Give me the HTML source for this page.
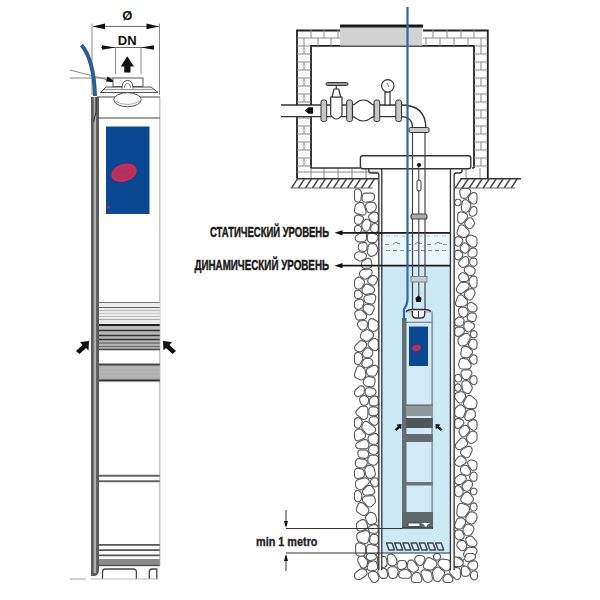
<!DOCTYPE html>
<html><head><meta charset="utf-8"><style>
html,body{margin:0;padding:0;background:#fff;width:600px;height:600px;overflow:hidden}
svg{display:block}
text{font-family:"Liberation Sans",sans-serif}
</style></head><body>
<svg width="600" height="600" viewBox="0 0 600 600" font-family="Liberation Sans, sans-serif"><g stroke="#8a8a8a" stroke-width="1" fill="none">
<line x1="92" y1="23.5" x2="92" y2="95"/><line x1="159.5" y1="23.5" x2="159.5" y2="95"/>
<line x1="115.5" y1="47.5" x2="115.5" y2="74"/><line x1="141" y1="47.5" x2="141" y2="74"/>
</g>
<g stroke="#666" stroke-width="1" fill="none">
<line x1="93" y1="26.4" x2="159" y2="26.4"/>
<line x1="101" y1="47.5" x2="154" y2="47.5"/>
</g>
<g fill="#111">
<path d="M92.5 26.4 L105 23.6 L105 29.2Z"/><path d="M159 26.4 L146.5 23.6 L146.5 29.2Z"/>
<path d="M115.5 47.5 L102 45.2 L102 49.8Z"/><path d="M141 47.5 L154 45.2 L154 49.8Z"/>
<path d="M127.3 56.3 L134 66.5 L130.5 66.5 L130.5 72.6 L124.2 72.6 L124.2 66.5 L120.7 66.5Z"/>
</g>
<text x="127.3" y="19.7" font-size="13" font-weight="bold" text-anchor="middle" fill="#111">Ø</text>
<text x="127.2" y="44.8" font-size="13" font-weight="bold" text-anchor="middle" fill="#111">DN</text>
<g stroke="#666" stroke-width="0.8" fill="none"><line x1="70" y1="70" x2="114" y2="81.5"/><line x1="70" y1="78" x2="113" y2="78"/></g>
<path d="M116.5 82.5 L107.5 76.5 L106 81.5Z" fill="#111"/>
<rect x="98.5" y="97" width="61.3" height="469" fill="#fff"/>
<line x1="159.8" y1="97" x2="159.8" y2="566" stroke="#b8b8b8" stroke-width="1.2"/>
<g stroke="#555" stroke-width="1" fill="#fff">
<rect x="113" y="78" width="30" height="8.5"/>
<path d="M100.5 92.5 L106 87 L151 87 L158 92.5Z" fill="#f4f4f4"/>
<line x1="104" y1="89.5" x2="154" y2="89.5" stroke="#999"/>
<path d="M122 88.5 Q122 80.5 127.5 80.5 Q133 80.5 133 88.5" fill="#fff"/>
<path d="M124.5 88 Q124.5 83.5 127.5 83.5 Q130.5 83.5 130.5 88" fill="none" stroke="#888"/>
</g>
<line x1="97" y1="97" x2="160" y2="97" stroke="#444" stroke-width="1.2"/>
<ellipse cx="127.5" cy="99.7" rx="13.7" ry="7" fill="#fff" stroke="#555" stroke-width="1"/>
<path d="M115 101 Q127.5 108 140 101" fill="none" stroke="#999" stroke-width="0.8"/>
<path d="M91 97 L99 97 L99 570 Q99 575 95 576 L91 576Z" fill="#5c5c5c"/>
<rect x="93.7" y="97" width="2.4" height="476" fill="#b0b0b0"/>
<path d="M96 97 L96 112 L93.5 122" stroke="#222" stroke-width="1" fill="none"/>
<line x1="98" y1="118" x2="159.8" y2="118" stroke="#444" stroke-width="1.2"/>
<rect x="106" y="126.5" width="43.5" height="87.5" fill="#0a4893"/>
<ellipse cx="124" cy="172.7" rx="12" ry="7.6" transform="rotate(-18 124 172.7)" fill="#a83468" stroke="#d82a4a" stroke-width="2.2"/>
<ellipse cx="125" cy="172" rx="7" ry="3" transform="rotate(-18 124 172.7)" fill="none" stroke="#d8284a" stroke-width="1.4"/>
<circle cx="108.5" cy="207.5" r="1.2" fill="#c02840"/>
<rect x="99" y="302" width="60.8" height="23" fill="#ebebeb"/>
<rect x="99" y="326" width="60.8" height="24" fill="#b4b4b4"/>
<rect x="99" y="364.5" width="60.8" height="16" fill="#b0b0b0"/>
<rect x="99" y="559" width="60.8" height="6" fill="#8a8a8a"/>
<line x1="99" y1="302.5" x2="159.8" y2="302.5" stroke="#777" stroke-width="1.2"/>
<line x1="99" y1="307.5" x2="159.8" y2="307.5" stroke="#666" stroke-width="1.2"/>
<line x1="99" y1="310.5" x2="159.8" y2="310.5" stroke="#aaa" stroke-width="0.8"/>
<line x1="99" y1="313.5" x2="159.8" y2="313.5" stroke="#bbb" stroke-width="0.8"/>
<line x1="99" y1="316.5" x2="159.8" y2="316.5" stroke="#aaa" stroke-width="0.8"/>
<line x1="99" y1="319.5" x2="159.8" y2="319.5" stroke="#999" stroke-width="0.8"/>
<line x1="99" y1="325" x2="159.8" y2="325" stroke="#222" stroke-width="2"/>
<line x1="99" y1="328" x2="159.8" y2="328" stroke="#ccc" stroke-width="0.8"/>
<line x1="99" y1="330.5" x2="159.8" y2="330.5" stroke="#333" stroke-width="1.6"/>
<line x1="99" y1="333.5" x2="159.8" y2="333.5" stroke="#bbb" stroke-width="0.8"/>
<line x1="99" y1="335.5" x2="159.8" y2="335.5" stroke="#333" stroke-width="1.6"/>
<line x1="99" y1="337.5" x2="159.8" y2="337.5" stroke="#bbb" stroke-width="0.8"/>
<line x1="99" y1="339.5" x2="159.8" y2="339.5" stroke="#333" stroke-width="1.6"/>
<line x1="99" y1="341.5" x2="159.8" y2="341.5" stroke="#bbb" stroke-width="0.8"/>
<line x1="99" y1="343" x2="159.8" y2="343" stroke="#555" stroke-width="1.2"/>
<line x1="99" y1="346.5" x2="159.8" y2="346.5" stroke="#666" stroke-width="1.2"/>
<line x1="99" y1="349.5" x2="159.8" y2="349.5" stroke="#444" stroke-width="1.6"/>
<line x1="99" y1="364.5" x2="159.8" y2="364.5" stroke="#444" stroke-width="1.8"/>
<line x1="99" y1="368" x2="159.8" y2="368" stroke="#bbb" stroke-width="0.8"/>
<line x1="99" y1="372" x2="159.8" y2="372" stroke="#bbb" stroke-width="0.8"/>
<line x1="99" y1="376" x2="159.8" y2="376" stroke="#bbb" stroke-width="0.8"/>
<line x1="99" y1="380.5" x2="159.8" y2="380.5" stroke="#333" stroke-width="1.8"/>
<line x1="99" y1="475.8" x2="159.8" y2="475.8" stroke="#666" stroke-width="2"/>
<line x1="99" y1="481.3" x2="159.8" y2="481.3" stroke="#666" stroke-width="2"/>
<line x1="99" y1="544.9" x2="159.8" y2="544.9" stroke="#555" stroke-width="1.8"/>
<line x1="99" y1="550.2" x2="159.8" y2="550.2" stroke="#555" stroke-width="1.8"/>
<line x1="99" y1="555.4" x2="159.8" y2="555.4" stroke="#555" stroke-width="1.8"/>
<line x1="99" y1="565.5" x2="159.8" y2="565.5" stroke="#555" stroke-width="1.5"/>
<g stroke="#444" stroke-width="1.3" fill="#fff"><path d="M102.5 579 L102.5 572 Q102.5 569 105.5 569 L133 569 Q136.4 569 136.4 572 L136.4 579"/><path d="M149.3 579 L149.3 572 Q149.3 569 152 569 L156.8 569 L156.8 579"/></g>
<line x1="91" y1="579" x2="158" y2="579" stroke="#bbb" stroke-width="1"/>
<line x1="70" y1="579" x2="86" y2="579" stroke="#888" stroke-width="0.8"/>
<path d="M89 341 L80 342 L82.5 345 L76 351 L79.5 354 L86 348 L88.5 350.5Z" fill="#111"/>
<path d="M163 341 L172 342 L169.5 345 L176 351 L172.5 354 L166 348 L163.5 350.5Z" fill="#111"/>
<path d="M81.5 45 Q94 60 95 96" stroke="#2a5f92" stroke-width="4" fill="none"/>
<g>
<path d="M297 178 L297 30.5 L340 30.5 M423 30.5 L487.8 30.5 L487.8 178" stroke="#222" stroke-width="1.8" fill="none"/>
<path d="M311 168 L311 45.8 L474 45.8 L474 168" stroke="#222" stroke-width="1.8" fill="none"/>
<g stroke="#888" stroke-width="1">
<line x1="297" y1="38" x2="340" y2="38"/>
<line x1="311" y1="30" x2="311" y2="38"/>
<line x1="324" y1="30" x2="324" y2="38"/>
<line x1="338" y1="30" x2="338" y2="38"/>
<line x1="304" y1="38" x2="304" y2="46"/>
<line x1="318" y1="38" x2="318" y2="46"/>
<line x1="331" y1="38" x2="331" y2="46"/>
<line x1="423" y1="38" x2="487.5" y2="38"/>
<line x1="433" y1="30" x2="433" y2="38"/>
<line x1="447" y1="30" x2="447" y2="38"/>
<line x1="461" y1="30" x2="461" y2="38"/>
<line x1="474" y1="30" x2="474" y2="38"/>
<line x1="426" y1="38" x2="426" y2="46"/>
<line x1="440" y1="38" x2="440" y2="46"/>
<line x1="454" y1="38" x2="454" y2="46"/>
<line x1="468" y1="38" x2="468" y2="46"/>
<line x1="481" y1="38" x2="481" y2="46"/>
<line x1="297" y1="46" x2="311" y2="46"/><line x1="474" y1="46" x2="487.5" y2="46"/>
<line x1="304" y1="46" x2="304" y2="54"/><line x1="481" y1="46" x2="481" y2="54"/>
<line x1="297" y1="54" x2="311" y2="54"/><line x1="474" y1="54" x2="487.5" y2="54"/>
<line x1="297" y1="62" x2="311" y2="62"/><line x1="474" y1="62" x2="487.5" y2="62"/>
<line x1="304" y1="62" x2="304" y2="70"/><line x1="481" y1="62" x2="481" y2="70"/>
<line x1="297" y1="70" x2="311" y2="70"/><line x1="474" y1="70" x2="487.5" y2="70"/>
<line x1="297" y1="78" x2="311" y2="78"/><line x1="474" y1="78" x2="487.5" y2="78"/>
<line x1="304" y1="78" x2="304" y2="86"/><line x1="481" y1="78" x2="481" y2="86"/>
<line x1="297" y1="86" x2="311" y2="86"/><line x1="474" y1="86" x2="487.5" y2="86"/>
<line x1="297" y1="94" x2="311" y2="94"/><line x1="474" y1="94" x2="487.5" y2="94"/>
<line x1="304" y1="94" x2="304" y2="102"/><line x1="481" y1="94" x2="481" y2="102"/>
<line x1="297" y1="102" x2="311" y2="102"/><line x1="474" y1="102" x2="487.5" y2="102"/>
<line x1="297" y1="110" x2="311" y2="110"/><line x1="474" y1="110" x2="487.5" y2="110"/>
<line x1="304" y1="110" x2="304" y2="118"/><line x1="481" y1="110" x2="481" y2="118"/>
<line x1="297" y1="118" x2="311" y2="118"/><line x1="474" y1="118" x2="487.5" y2="118"/>
<line x1="297" y1="126" x2="311" y2="126"/><line x1="474" y1="126" x2="487.5" y2="126"/>
<line x1="304" y1="126" x2="304" y2="134"/><line x1="481" y1="126" x2="481" y2="134"/>
<line x1="297" y1="134" x2="311" y2="134"/><line x1="474" y1="134" x2="487.5" y2="134"/>
<line x1="297" y1="142" x2="311" y2="142"/><line x1="474" y1="142" x2="487.5" y2="142"/>
<line x1="304" y1="142" x2="304" y2="150"/><line x1="481" y1="142" x2="481" y2="150"/>
<line x1="297" y1="150" x2="311" y2="150"/><line x1="474" y1="150" x2="487.5" y2="150"/>
<line x1="297" y1="158" x2="311" y2="158"/><line x1="474" y1="158" x2="487.5" y2="158"/>
<line x1="304" y1="158" x2="304" y2="166"/><line x1="481" y1="158" x2="481" y2="166"/>
<line x1="297" y1="166" x2="311" y2="166"/><line x1="474" y1="166" x2="487.5" y2="166"/>
<line x1="297" y1="172" x2="380" y2="172"/>
<line x1="311" y1="168" x2="311" y2="178"/>
<line x1="324" y1="168" x2="324" y2="178"/>
<line x1="338" y1="168" x2="338" y2="178"/>
<line x1="352" y1="168" x2="352" y2="178"/>
<line x1="366" y1="168" x2="366" y2="178"/>
<line x1="466" y1="168" x2="466" y2="178"/>
<line x1="480" y1="168" x2="480" y2="178"/>
</g>
<line x1="311" y1="168" x2="360" y2="168" stroke="#333" stroke-width="1.5"/>
<line x1="472" y1="168" x2="474" y2="168" stroke="#333" stroke-width="1.5"/>
</g>
<rect x="340" y="27" width="82" height="19" fill="#d2d2d2"/>
<rect x="340" y="24.5" width="83" height="3" fill="#1a1a1a"/>
<line x1="340" y1="46" x2="423" y2="46" stroke="#555" stroke-width="1"/>
<g><clipPath id="c290"><path d="M290.5 188 L296.5 178.8 L378.8 178.8 L372.8 188Z"/></clipPath><path d="M290.5 188 L296.5 178.8 L378.8 178.8 L372.8 188Z" fill="#fff"/><line x1="296.5" y1="178.8" x2="378.8" y2="178.8" stroke="#333" stroke-width="1.4"/><line x1="290.5" y1="188" x2="372.8" y2="188" stroke="#666" stroke-width="1"/><g clip-path="url(#c290)" stroke="#444" stroke-width="1.5"><line x1="270.5" y1="188" x2="276.5" y2="178.8"/><line x1="277.5" y1="188" x2="283.5" y2="178.8"/><line x1="284.5" y1="188" x2="290.5" y2="178.8"/><line x1="291.5" y1="188" x2="297.5" y2="178.8"/><line x1="298.5" y1="188" x2="304.5" y2="178.8"/><line x1="305.5" y1="188" x2="311.5" y2="178.8"/><line x1="312.5" y1="188" x2="318.5" y2="178.8"/><line x1="319.5" y1="188" x2="325.5" y2="178.8"/><line x1="326.5" y1="188" x2="332.5" y2="178.8"/><line x1="333.5" y1="188" x2="339.5" y2="178.8"/><line x1="340.5" y1="188" x2="346.5" y2="178.8"/><line x1="347.5" y1="188" x2="353.5" y2="178.8"/><line x1="354.5" y1="188" x2="360.5" y2="178.8"/><line x1="361.5" y1="188" x2="367.5" y2="178.8"/><line x1="368.5" y1="188" x2="374.5" y2="178.8"/><line x1="375.5" y1="188" x2="381.5" y2="178.8"/><line x1="382.5" y1="188" x2="388.5" y2="178.8"/></g></g>
<g><clipPath id="c454"><path d="M454.2 188 L460.2 178.8 L521 178.8 L515 188Z"/></clipPath><path d="M454.2 188 L460.2 178.8 L521 178.8 L515 188Z" fill="#fff"/><line x1="460.2" y1="178.8" x2="521" y2="178.8" stroke="#333" stroke-width="1.4"/><line x1="454.2" y1="188" x2="515" y2="188" stroke="#666" stroke-width="1"/><g clip-path="url(#c454)" stroke="#444" stroke-width="1.5"><line x1="434.2" y1="188" x2="440.2" y2="178.8"/><line x1="441.2" y1="188" x2="447.2" y2="178.8"/><line x1="448.2" y1="188" x2="454.2" y2="178.8"/><line x1="455.2" y1="188" x2="461.2" y2="178.8"/><line x1="462.2" y1="188" x2="468.2" y2="178.8"/><line x1="469.2" y1="188" x2="475.2" y2="178.8"/><line x1="476.2" y1="188" x2="482.2" y2="178.8"/><line x1="483.2" y1="188" x2="489.2" y2="178.8"/><line x1="490.2" y1="188" x2="496.2" y2="178.8"/><line x1="497.2" y1="188" x2="503.2" y2="178.8"/><line x1="504.2" y1="188" x2="510.2" y2="178.8"/><line x1="511.2" y1="188" x2="517.2" y2="178.8"/><line x1="518.2" y1="188" x2="524.2" y2="178.8"/><line x1="525.2" y1="188" x2="531.2" y2="178.8"/></g></g>
<g fill="#fff" stroke="#5a5a5a" stroke-width="1.1" stroke-linejoin="round">
<path d="M354.5 198.8 L354.8 200.1 L355.5 201.1 L356.5 201.8 L357.8 202.0 L359.0 201.7 L359.1 201.7 L360.0 201.1 L360.7 200.2 L361.0 199.1 L361.6 193.6 L361.5 192.5 L361.2 191.6 L360.4 190.4 L359.6 189.5 L358.6 189.0 L357.4 188.9 L356.3 189.2 L355.3 189.9 L354.7 190.9 L354.5 192.1Z"/>
<path d="M358.4 224.4 L359.6 224.3 L360.7 223.8 L361.6 222.9 L363.0 220.6 L363.4 219.5 L363.4 218.3 L363.0 217.2 L362.2 216.4 L361.1 215.9 L358.6 215.1 L357.4 215.0 L356.3 215.4 L355.3 216.1 L354.7 217.1 L354.5 218.2 L354.5 221.1 L354.7 222.2 L355.3 223.2 L356.2 223.9 L357.3 224.3Z"/>
<path d="M356.2 364.2 L357.2 364.6 L358.3 364.7 L358.4 364.7 L359.8 364.1 L360.8 362.9 L362.5 359.5 L362.8 358.2 L362.6 356.9 L361.6 354.6 L360.7 353.4 L359.4 352.7 L358.5 352.5 L357.3 352.4 L356.2 352.8 L355.3 353.5 L354.7 354.5 L354.5 355.6 L354.5 361.4 L354.7 362.5 L355.2 363.4 L356.0 364.1Z"/>
<path d="M360.2 232.2 L361.0 231.4 L361.6 230.4 L361.7 229.3 L361.5 228.2 L361.1 227.4 L360.5 226.4 L359.6 225.8 L358.6 225.4 L358.1 225.4 L356.8 225.5 L355.6 226.1 L354.8 227.2 L354.5 228.6 L354.5 229.9 L354.8 231.2 L355.6 232.3 L356.8 233.0 L358.1 233.1 L359.4 232.6Z"/>
<path d="M359.4 491.0 L358.1 490.5 L356.8 490.6 L355.6 491.3 L354.8 492.4 L354.5 493.7 L354.5 498.5 L354.8 499.8 L355.7 500.9 L356.9 501.6 L357.1 501.6 L358.2 501.7 L359.3 501.4 L359.7 501.2 L360.8 500.3 L361.4 499.1 L361.9 497.0 L362.0 496.1 L361.8 495.1 L360.9 492.7 L360.4 491.8 L359.6 491.1Z"/>
<path d="M354.5 475.5 L354.7 476.6 L355.3 477.6 L356.3 478.3 L357.4 478.7 L358.6 478.5 L362.3 477.5 L363.4 476.9 L364.2 476.0 L364.5 474.8 L364.5 473.6 L363.9 471.3 L363.4 470.2 L362.5 469.3 L361.3 468.9 L358.2 468.4 L356.8 468.4 L355.6 469.1 L354.8 470.2 L354.5 471.5Z"/>
<path d="M358.4 290.1 L357.2 290.0 L356.2 290.4 L355.3 291.1 L354.7 292.1 L354.5 293.2 L354.5 295.4 L354.7 296.5 L355.3 297.5 L356.2 298.2 L357.4 298.5 L358.5 298.5 L360.0 298.1 L361.2 297.4 L362.1 296.3 L362.4 295.0 L362.1 293.6 L361.3 292.0 L360.4 290.8 L359.1 290.2Z"/>
<path d="M354.5 306.2 L354.7 307.3 L355.3 308.3 L356.2 309.0 L357.3 309.4 L358.4 309.3 L359.9 309.0 L361.2 308.4 L362.1 307.3 L363.6 304.5 L363.9 303.2 L363.7 301.9 L363.4 301.2 L362.8 300.2 L361.9 299.4 L360.8 299.1 L359.6 299.2 L356.9 299.9 L355.6 300.6 L354.8 301.7 L354.5 303.0Z"/>
<path d="M359.7 418.3 L358.6 417.7 L357.4 417.6 L356.3 417.9 L355.3 418.6 L354.7 419.6 L354.5 420.8 L354.5 424.9 L354.7 426.1 L355.4 427.1 L356.4 427.8 L357.6 428.1 L358.8 427.9 L359.0 427.8 L360.1 427.1 L360.9 425.9 L362.0 423.0 L362.2 421.7 L361.9 420.4 L361.0 419.3Z"/>
<path d="M354.5 437.7 L354.8 439.0 L355.5 440.0 L356.5 440.7 L357.8 440.9 L359.0 440.6 L363.7 438.5 L364.6 437.9 L365.3 436.9 L365.6 435.8 L365.4 434.6 L364.9 433.6 L362.0 430.1 L361.0 429.2 L359.7 428.9 L358.4 429.1 L356.6 429.8 L355.5 430.4 L354.8 431.5 L354.5 432.8Z"/>
<path d="M359.7 543.0 L358.5 542.8 L357.3 543.1 L356.3 543.9 L355.7 544.9 L355.5 546.1 L355.7 552.8 L356.0 554.0 L356.8 555.1 L357.9 555.7 L360.2 556.4 L361.2 556.6 L362.2 556.4 L363.3 556.0 L364.4 555.4 L365.1 554.3 L365.4 553.1 L365.6 547.4 L365.3 546.1 L364.6 545.0 L363.4 544.3Z"/>
<path d="M361.7 366.6 L360.6 366.0 L359.4 365.9 L358.2 366.2 L357.2 366.9 L356.6 368.0 L354.7 373.5 L354.5 374.5 L354.5 375.1 L354.7 376.3 L355.3 377.3 L356.3 378.0 L359.6 379.6 L361.0 380.0 L362.3 379.7 L363.5 378.9 L365.2 376.9 L365.8 375.6 L365.9 374.2 L365.2 370.4 L364.8 369.4 L364.0 368.5Z"/>
<path d="M354.5 285.6 L354.8 287.0 L355.7 288.2 L357.0 288.8 L358.5 289.1 L359.8 289.1 L361.0 288.6 L361.9 287.6 L364.1 284.0 L364.5 282.9 L364.5 281.8 L364.1 280.7 L363.3 279.9 L360.7 277.8 L359.7 277.2 L358.6 277.1 L357.5 277.3 L356.6 277.9 L355.5 278.9 L354.8 280.0 L354.5 281.3Z"/>
<path d="M359.3 351.7 L360.4 351.7 L361.5 351.4 L362.4 350.7 L365.8 347.1 L366.4 346.1 L366.6 345.0 L366.5 343.9 L365.9 342.9 L365.0 342.1 L363.0 341.0 L361.7 340.6 L360.2 340.8 L359.1 341.6 L355.3 345.7 L354.7 346.7 L354.5 347.8 L354.5 348.0 L354.8 349.4 L355.7 350.5 L356.9 351.1Z"/>
<path d="M360.5 565.0 L360.6 566.2 L361.0 567.3 L361.9 568.2 L363.0 568.6 L366.3 569.4 L367.7 569.4 L368.9 568.8 L369.8 567.8 L370.2 566.5 L370.0 565.2 L367.8 558.9 L367.2 557.8 L366.2 557.0 L365.0 556.7 L363.8 556.9 L363.5 557.0 L362.4 557.6 L361.7 558.5 L361.3 559.6Z"/>
<path d="M355.5 464.7 L356.0 465.9 L356.9 466.9 L358.2 467.3 L361.9 468.0 L363.0 468.0 L364.0 467.6 L364.8 467.0 L366.4 465.2 L367.2 463.8 L367.2 462.3 L367.1 461.9 L366.5 460.7 L365.7 459.9 L364.5 459.5 L359.7 458.6 L358.6 458.6 L357.5 458.9 L356.7 459.6 L356.0 460.4 L355.4 461.6 L355.3 463.0Z"/>
<path d="M359.0 532.5 L358.0 533.0 L357.2 533.9 L356.8 534.9 L356.7 536.0 L357.1 539.2 L357.5 540.3 L358.2 541.2 L359.2 541.8 L364.1 543.4 L365.4 543.6 L366.7 543.2 L367.7 542.4 L368.3 541.1 L369.7 535.1 L369.7 533.7 L369.1 532.4 L368.7 531.9 L367.7 531.0 L366.5 530.6 L365.2 530.7Z"/>
<path d="M356.5 508.5 L356.3 509.9 L356.7 511.3 L357.7 512.3 L361.9 515.1 L363.0 515.5 L364.1 515.6 L365.2 515.2 L366.1 514.5 L368.1 512.3 L368.7 511.2 L368.8 510.0 L368.6 508.9 L367.9 507.9 L363.3 503.4 L362.2 502.7 L361.0 502.4 L359.7 502.7 L358.7 503.4 L358.0 504.5Z"/>
<path d="M357.6 442.4 L356.6 443.1 L355.9 444.1 L355.7 445.3 L355.9 446.5 L356.5 447.5 L357.5 448.2 L358.7 448.5 L365.1 448.9 L366.4 448.8 L367.5 448.1 L368.3 447.0 L368.7 446.1 L369.0 444.9 L368.7 443.6 L367.8 441.4 L367.1 440.3 L366.0 439.6 L364.8 439.4 L363.5 439.7Z"/>
<path d="M357.2 310.6 L356.0 311.2 L355.1 312.2 L354.7 313.4 L354.9 314.8 L355.9 318.0 L356.5 318.9 L357.3 319.7 L358.4 320.1 L359.5 320.1 L363.9 319.4 L365.0 319.0 L365.9 318.3 L366.4 317.3 L366.6 316.1 L366.4 315.0 L365.7 314.0 L362.8 311.0 L361.9 310.3 L360.9 310.0 L359.8 310.0Z"/>
<path d="M356.7 396.4 L358.1 396.7 L359.5 396.3 L362.3 394.9 L363.2 394.3 L363.8 393.4 L364.1 392.4 L364.4 389.2 L364.3 387.9 L363.7 386.8 L362.7 386.0 L361.4 385.7 L360.1 385.9 L359.0 386.6 L355.5 390.0 L354.8 391.0 L354.5 392.3 L354.5 393.3 L354.7 394.5 L355.4 395.5 L356.4 396.2Z"/>
<path d="M356.8 410.3 L356.1 411.4 L355.9 412.7 L356.3 414.0 L357.1 415.0 L362.0 418.8 L363.1 419.4 L364.3 419.5 L365.5 419.1 L366.5 418.3 L367.1 417.6 L367.6 416.7 L367.8 415.6 L367.9 409.5 L367.7 408.3 L367.0 407.3 L366.1 406.6 L365.0 406.2 L362.6 406.0 L361.2 406.2 L360.0 407.0Z"/>
<path d="M358.8 260.7 L359.9 261.0 L361.0 261.0 L362.1 260.5 L365.0 258.6 L365.9 257.7 L366.3 256.6 L366.4 255.4 L365.9 254.2 L365.1 253.3 L364.0 252.8 L359.5 251.7 L358.0 251.7 L356.7 252.4 L355.6 253.3 L354.8 254.4 L354.5 255.7 L354.5 256.5 L354.7 257.6 L355.3 258.6 L356.2 259.3Z"/>
<path d="M356.7 235.4 L355.9 236.2 L355.3 237.3 L355.2 238.4 L355.5 239.6 L356.2 240.5 L357.0 241.2 L358.2 241.9 L359.6 242.0 L363.6 241.6 L364.7 241.2 L365.6 240.5 L366.2 239.6 L366.4 238.5 L366.5 235.3 L366.2 233.9 L365.5 232.8 L364.3 232.1 L362.9 232.0 L361.6 232.4Z"/>
<path d="M355.7 486.0 L356.1 487.3 L357.2 488.4 L358.8 489.4 L360.1 489.9 L361.5 489.8 L362.7 489.0 L368.3 483.8 L369.0 482.8 L369.3 481.7 L369.2 480.5 L368.6 479.5 L367.7 478.7 L366.9 478.2 L365.7 477.8 L364.4 477.9 L357.8 479.8 L356.5 480.5 L355.7 481.7 L355.5 483.2Z"/>
<path d="M363.9 204.5 L363.3 203.4 L362.2 202.6 L360.9 202.3 L359.6 202.6 L357.0 203.7 L355.9 204.6 L355.2 206.0 L354.6 209.0 L354.5 209.6 L354.5 210.5 L354.8 211.9 L355.6 213.0 L356.8 213.6 L362.1 215.1 L363.4 215.2 L364.7 214.7 L365.7 213.7 L366.1 212.4 L366.0 211.0Z"/>
<path d="M363.0 229.3 L363.7 230.3 L364.8 231.0 L365.1 231.1 L366.4 231.3 L367.6 231.0 L368.6 230.3 L369.3 229.2 L370.8 224.6 L371.0 223.6 L370.8 222.5 L370.3 221.6 L369.3 220.4 L368.3 219.6 L367.2 219.2 L366.0 219.3 L364.9 219.8 L364.1 220.7 L362.2 223.8 L361.7 225.3 L361.9 226.8Z"/>
<path d="M360.7 337.7 L361.3 338.6 L362.1 339.3 L365.1 341.0 L366.3 341.4 L367.6 341.3 L368.7 340.8 L372.5 337.8 L373.4 336.6 L373.7 335.2 L373.7 335.0 L373.3 333.5 L372.3 332.4 L369.0 330.2 L368.0 329.8 L366.9 329.7 L365.9 330.0 L362.9 331.4 L361.8 332.2 L361.2 333.3 L360.5 335.1 L360.4 336.3 L360.6 337.4Z"/>
<path d="M360.0 272.0 L359.5 273.1 L359.5 274.3 L359.8 275.5 L360.6 276.4 L363.2 278.5 L364.2 279.0 L365.3 279.2 L366.4 278.9 L367.4 278.3 L371.2 274.8 L372.0 273.5 L372.2 272.0 L372.2 272.0 L371.8 270.8 L371.1 269.9 L370.0 269.3 L368.8 269.1 L363.3 269.5 L361.9 269.9 L360.9 270.8Z"/>
<path d="M362.7 292.6 L363.6 293.7 L364.8 294.4 L366.2 294.4 L372.0 293.3 L373.2 292.7 L374.1 291.7 L374.5 290.4 L374.4 289.1 L374.1 288.3 L373.5 287.3 L372.6 286.6 L368.6 284.4 L367.4 284.0 L366.2 284.1 L365.1 284.7 L364.3 285.6 L362.4 288.7 L362.0 289.6 L362.0 290.7 L362.3 291.7Z"/>
<path d="M356.7 528.2 L357.0 529.3 L357.7 530.2 L358.6 530.8 L359.7 531.1 L360.8 531.0 L365.4 529.6 L366.4 529.1 L367.1 528.3 L367.6 527.3 L367.6 527.0 L367.7 526.0 L367.4 524.9 L365.7 521.3 L364.9 520.3 L363.7 519.6 L362.4 519.5 L361.1 520.0 L357.9 522.0 L357.1 522.8 L356.6 523.9 L356.5 525.0Z"/>
<path d="M363.1 355.6 L363.9 356.7 L365.0 357.3 L366.3 357.5 L369.4 357.2 L370.4 357.0 L371.3 356.3 L372.0 355.4 L372.6 354.0 L372.9 352.7 L372.7 351.3 L371.8 350.2 L370.0 348.6 L368.9 348.0 L367.7 347.8 L366.5 348.1 L365.5 348.9 L363.3 351.2 L362.7 352.3 L362.4 353.5 L362.7 354.7Z"/>
<path d="M360.2 321.0 L359.0 321.5 L358.0 322.3 L357.5 323.5 L357.5 324.8 L358.0 326.0 L359.9 328.7 L360.7 329.5 L361.7 330.0 L362.8 330.1 L363.9 329.8 L365.4 329.1 L366.3 328.5 L366.9 327.5 L367.2 326.5 L367.4 323.8 L367.3 322.7 L366.8 321.7 L365.9 320.9 L364.8 320.5 L363.7 320.5Z"/>
<path d="M363.8 380.0 L363.3 380.9 L363.1 382.0 L363.3 383.1 L363.8 384.1 L364.7 385.1 L365.6 385.9 L366.7 386.2 L370.8 386.9 L372.0 386.8 L373.1 386.3 L374.0 385.4 L374.4 384.3 L375.1 380.9 L375.1 379.6 L374.5 378.4 L373.6 377.5 L372.3 377.1 L368.6 376.6 L367.5 376.7 L366.6 377.0 L365.8 377.7Z"/>
<path d="M361.5 265.7 L361.9 266.8 L362.7 267.7 L363.7 268.3 L364.9 268.4 L368.9 268.1 L370.2 267.8 L371.2 267.0 L371.8 265.8 L371.9 264.5 L371.4 261.0 L370.9 259.8 L370.1 258.9 L368.9 258.4 L367.6 258.3 L366.4 258.8 L362.7 261.3 L361.9 262.1 L361.4 263.2 L361.4 264.4Z"/>
<path d="M358.3 247.8 L358.6 249.2 L359.5 250.4 L360.8 251.0 L362.9 251.5 L364.2 251.5 L365.4 251.1 L366.3 250.1 L366.8 248.9 L367.2 246.2 L367.1 245.1 L366.7 244.0 L365.9 243.1 L364.8 242.6 L363.6 242.6 L361.2 242.9 L360.1 243.2 L359.2 243.9 L358.6 244.8 L358.4 246.0Z"/>
<path d="M358.0 454.9 L358.4 456.2 L359.3 457.2 L360.6 457.7 L364.4 458.4 L365.7 458.4 L366.9 457.8 L367.8 456.8 L368.4 455.7 L368.8 454.4 L368.5 453.0 L368.1 452.0 L367.5 451.0 L366.5 450.3 L365.3 450.0 L361.2 449.7 L359.9 449.9 L358.7 450.6 L358.0 451.8 L357.8 453.1Z"/>
<path d="M361.3 396.5 L360.4 397.2 L359.8 398.2 L359.5 399.3 L359.7 400.5 L360.6 403.0 L361.2 404.0 L362.1 404.7 L363.3 405.1 L364.7 405.2 L365.9 405.1 L367.0 404.6 L367.8 403.7 L368.2 402.5 L368.6 400.0 L368.5 398.8 L368.0 397.6 L367.1 396.8 L365.9 396.0 L364.9 395.6 L363.8 395.5 L362.7 395.8Z"/>
<path d="M363.5 489.7 L362.8 490.7 L362.5 492.0 L362.8 493.3 L363.6 494.4 L364.7 495.0 L366.0 495.2 L372.0 494.5 L373.2 494.1 L374.2 493.2 L374.8 491.9 L374.7 490.6 L374.2 489.4 L372.0 486.5 L371.0 485.7 L369.7 485.3 L368.4 485.5 L367.2 486.1Z"/>
<path d="M362.0 198.6 L362.1 199.8 L362.6 200.9 L363.5 201.7 L364.6 202.1 L365.7 202.2 L371.5 201.2 L372.8 200.8 L373.7 199.9 L374.2 198.7 L374.5 196.9 L374.5 195.5 L373.9 194.3 L372.8 193.4 L371.4 193.1 L365.6 193.0 L364.4 193.1 L363.4 193.7 L362.7 194.7 L362.4 195.8Z"/>
<path d="M368.1 458.4 L367.7 459.5 L367.8 460.7 L368.1 462.0 L368.5 463.0 L369.2 463.8 L370.2 464.3 L372.4 465.1 L374.0 465.2 L375.4 464.7 L377.0 463.5 L377.9 462.4 L378.3 460.9 L378.3 458.4 L378.1 457.2 L377.4 456.2 L376.4 455.5 L375.2 455.2 L371.9 455.0 L370.8 455.2 L369.7 455.8 L369.0 456.7Z"/>
<path d="M367.5 506.1 L368.6 506.8 L369.8 507.0 L371.1 506.7 L372.1 505.9 L374.7 503.1 L375.3 502.2 L375.5 501.1 L375.4 500.1 L374.8 497.9 L374.3 496.9 L373.5 496.1 L372.5 495.7 L371.3 495.6 L365.3 496.2 L364.1 496.6 L363.1 497.5 L362.5 498.6 L362.5 498.9 L362.4 500.1 L362.7 501.1 L363.3 502.0Z"/>
<path d="M368.5 478.0 L369.5 478.4 L370.6 478.4 L371.7 478.0 L373.7 476.9 L374.7 475.9 L375.3 474.7 L375.3 473.3 L374.1 468.3 L373.7 467.3 L372.9 466.5 L372.0 466.0 L370.3 465.4 L369.0 465.2 L367.8 465.5 L366.8 466.2 L365.5 467.7 L364.8 469.0 L364.8 470.6 L365.9 475.3 L366.5 476.5 L367.4 477.3Z"/>
<path d="M362.0 425.9 L361.8 427.0 L361.9 428.1 L362.5 429.0 L366.0 433.4 L367.1 434.3 L368.4 434.6 L369.8 434.4 L373.7 432.6 L374.9 431.8 L375.6 430.5 L375.6 429.1 L375.6 429.0 L375.2 428.0 L374.4 427.1 L367.9 422.0 L366.9 421.4 L365.7 421.3 L364.5 421.6 L363.6 422.3 L363.0 423.3Z"/>
<path d="M367.4 239.2 L367.6 240.5 L368.3 241.5 L369.3 242.2 L370.5 242.5 L373.7 242.6 L374.8 242.4 L375.7 241.9 L376.5 241.1 L377.7 239.1 L378.2 237.7 L377.9 236.1 L377.8 235.9 L377.0 234.8 L375.8 234.1 L371.6 232.8 L370.4 232.7 L369.3 233.0 L368.4 233.6 L367.7 234.6 L367.5 235.8Z"/>
<path d="M366.3 295.4 L365.1 296.0 L364.2 297.0 L363.8 298.3 L364.0 299.7 L364.5 301.1 L365.0 302.0 L365.9 302.7 L366.9 303.1 L371.2 304.0 L372.4 304.0 L373.5 303.5 L374.4 302.7 L374.9 301.6 L375.7 298.2 L375.8 296.9 L375.3 295.7 L374.5 294.8 L373.3 294.3 L372.0 294.3Z"/>
<path d="M363.9 367.1 L364.9 367.6 L366.2 367.8 L367.3 367.4 L371.2 365.5 L372.1 364.7 L372.7 363.7 L372.9 362.5 L372.6 361.3 L372.1 360.1 L371.4 359.1 L370.2 358.4 L368.9 358.3 L365.8 358.5 L364.8 358.8 L363.9 359.4 L363.2 360.3 L362.1 362.5 L361.8 363.9 L362.1 365.3 L363.0 366.4Z"/>
<path d="M365.1 392.2 L365.2 393.4 L365.7 394.4 L366.6 395.2 L368.0 396.1 L369.0 396.6 L370.0 396.6 L371.1 396.3 L374.2 394.9 L375.1 394.2 L375.7 393.2 L376.0 392.1 L375.8 391.0 L375.3 390.0 L374.8 389.3 L373.9 388.5 L372.7 388.1 L368.9 387.6 L367.7 387.7 L366.5 388.2 L365.7 389.2 L365.3 390.4Z"/>
<path d="M371.3 565.8 L372.0 567.0 L373.2 567.7 L374.6 567.9 L374.8 567.9 L376.1 567.5 L377.1 566.5 L377.7 565.3 L378.2 562.2 L378.3 561.6 L378.3 558.8 L378.1 557.6 L377.5 556.7 L376.6 555.9 L375.6 555.6 L374.4 555.6 L371.8 556.2 L370.5 556.7 L369.7 557.8 L369.3 559.0 L369.4 560.4Z"/>
<path d="M366.4 552.3 L366.6 553.4 L367.2 554.4 L368.1 555.1 L369.2 555.5 L370.3 555.5 L375.8 554.3 L377.1 553.7 L378.0 552.6 L378.3 551.2 L378.3 548.8 L378.0 547.5 L377.1 546.3 L375.8 545.7 L370.5 544.5 L369.3 544.4 L368.3 544.8 L367.4 545.5 L366.8 546.4 L366.6 547.5Z"/>
<path d="M368.7 255.0 L369.5 255.8 L370.5 256.3 L371.6 256.4 L372.7 256.1 L374.7 255.2 L375.5 254.6 L376.2 253.8 L377.5 251.2 L377.9 249.8 L377.6 248.4 L376.3 245.5 L375.6 244.5 L374.6 243.8 L373.4 243.6 L371.4 243.5 L370.3 243.7 L369.3 244.3 L368.6 245.2 L368.2 246.2 L367.4 251.6 L367.4 252.8 L367.9 253.9Z"/>
<path d="M373.3 319.1 L372.0 318.7 L370.8 318.8 L369.7 319.4 L368.9 320.4 L368.6 321.6 L368.2 326.5 L368.3 327.6 L368.8 328.6 L369.6 329.4 L372.0 331.0 L373.3 331.5 L374.8 331.3 L376.0 330.6 L377.3 329.3 L378.0 328.3 L378.3 327.0 L378.3 323.7 L378.1 322.5 L377.5 321.6 L376.6 320.9Z"/>
<path d="M368.7 278.5 L367.9 279.5 L367.6 280.6 L367.8 281.8 L368.4 282.9 L369.3 283.6 L371.3 284.7 L372.4 285.1 L373.6 285.0 L374.7 284.5 L375.5 283.6 L377.0 281.1 L377.4 280.0 L377.4 278.8 L377.0 277.7 L376.2 276.9 L375.1 276.1 L374.1 275.6 L373.0 275.4 L372.0 275.7 L371.0 276.3Z"/>
<path d="M369.2 402.2 L369.3 403.6 L369.9 404.8 L371.0 405.6 L372.3 405.9 L375.1 405.9 L376.3 405.7 L377.3 405.0 L378.1 404.0 L378.3 402.7 L378.3 399.1 L378.0 397.8 L377.3 396.8 L376.2 396.1 L375.0 395.9 L373.7 396.2 L371.4 397.3 L370.2 398.3 L369.6 399.7Z"/>
<path d="M363.4 307.0 L363.0 308.3 L363.2 309.6 L363.9 310.7 L367.1 314.0 L368.1 314.7 L369.2 315.0 L370.5 314.8 L371.5 314.2 L372.2 313.2 L374.0 309.6 L374.3 308.5 L374.2 307.4 L373.7 306.3 L372.8 305.5 L371.7 305.1 L367.4 304.2 L366.0 304.3 L364.8 304.9 L363.9 305.9Z"/>
<path d="M369.8 435.4 L368.8 436.1 L368.2 437.1 L367.9 438.3 L368.2 439.6 L369.3 442.3 L370.0 443.4 L371.0 444.1 L372.3 444.3 L375.1 444.3 L376.4 444.0 L377.4 443.4 L378.1 442.3 L378.3 441.1 L378.3 436.6 L378.1 435.4 L377.3 434.3 L376.3 433.6 L375.1 433.4 L373.8 433.7Z"/>
<path d="M369.2 341.6 L368.3 342.7 L368.0 344.1 L368.3 345.4 L369.1 346.6 L373.0 349.9 L374.1 350.5 L375.3 350.7 L376.4 350.4 L377.4 349.7 L378.1 348.7 L378.3 347.5 L378.3 342.0 L378.1 340.9 L377.6 340.0 L376.8 339.3 L376.2 338.9 L375.0 338.4 L373.7 338.5 L372.5 339.0Z"/>
<path d="M368.1 368.2 L367.0 369.0 L366.4 370.2 L366.4 371.6 L366.7 373.1 L367.2 374.3 L368.2 375.3 L369.4 375.7 L373.1 376.2 L374.4 376.0 L375.6 375.4 L376.4 374.3 L378.0 370.6 L378.3 369.3 L378.3 369.1 L378.1 368.0 L377.9 367.4 L377.2 366.3 L376.1 365.5 L375.9 365.4 L374.6 365.2 L373.2 365.5Z"/>
<path d="M370.4 214.0 L369.5 214.6 L368.9 215.6 L368.6 216.7 L368.8 217.9 L369.3 218.9 L371.3 221.3 L372.3 222.1 L373.6 222.4 L374.9 222.5 L376.2 222.3 L377.3 221.6 L378.0 220.6 L378.3 219.3 L378.3 215.2 L378.0 214.0 L377.3 212.9 L376.2 212.2 L374.9 212.0 L373.7 212.3Z"/>
<path d="M366.9 210.5 L367.5 211.7 L368.7 212.5 L370.0 212.7 L371.3 212.4 L374.3 210.9 L375.4 210.0 L376.0 208.6 L376.3 207.1 L376.3 205.9 L375.8 204.8 L375.1 203.6 L374.2 202.7 L373.1 202.2 L371.8 202.2 L368.3 202.8 L367.0 203.3 L366.0 204.2 L365.6 205.5 L365.7 206.9Z"/>
<path d="M368.8 448.4 L368.5 449.6 L368.7 450.9 L369.2 452.0 L369.9 453.1 L370.9 453.8 L372.0 454.0 L375.0 454.2 L376.2 454.0 L377.3 453.3 L378.0 452.2 L378.3 451.0 L378.3 448.5 L378.1 447.3 L377.3 446.2 L376.3 445.5 L375.1 445.3 L372.2 445.3 L371.0 445.6 L370.0 446.3 L369.3 447.3Z"/>
<path d="M366.3 515.8 L365.7 516.8 L365.6 518.1 L365.9 519.2 L367.5 522.7 L368.2 523.7 L369.1 524.3 L370.2 524.6 L371.4 524.4 L374.5 523.4 L375.5 522.9 L376.3 522.0 L376.7 520.9 L376.7 519.7 L375.8 515.7 L375.2 514.4 L374.2 513.5 L372.4 512.6 L371.0 512.2 L369.6 512.5 L368.5 513.3Z"/>
<path d="M372.1 478.9 L371.2 479.6 L370.7 480.5 L370.4 481.6 L370.4 481.6 L370.6 482.7 L371.1 483.7 L372.6 485.7 L373.6 486.5 L374.8 486.9 L376.1 486.7 L377.3 486.1 L378.0 485.0 L378.3 483.7 L378.3 480.9 L378.0 479.6 L377.3 478.5 L376.1 477.9 L374.8 477.7 L373.5 478.1Z"/>
<path d="M368.8 412.6 L369.1 414.0 L369.9 415.1 L371.1 415.7 L372.5 415.8 L375.5 415.4 L376.6 415.1 L377.5 414.4 L378.1 413.4 L378.3 412.2 L378.3 410.1 L378.1 408.9 L377.4 407.9 L376.4 407.2 L375.1 406.9 L372.1 406.9 L370.9 407.1 L369.8 407.8 L369.1 408.8 L368.9 410.1Z"/>
<path d="M371.9 416.9 L370.7 417.3 L369.8 418.1 L369.2 419.2 L369.1 420.5 L369.5 421.7 L370.3 422.6 L372.8 424.6 L374.0 425.2 L375.4 425.2 L376.6 424.7 L377.5 423.7 L377.8 423.2 L378.3 421.6 L378.3 419.7 L378.0 418.4 L377.2 417.3 L376.0 416.6 L374.7 416.5Z"/>
<path d="M370.6 525.7 L369.6 526.3 L368.8 527.2 L368.5 528.4 L368.5 529.6 L369.1 530.7 L369.9 531.9 L371.0 532.7 L372.3 533.1 L374.9 533.3 L376.2 533.2 L377.3 532.5 L378.0 531.4 L378.3 530.1 L378.3 527.6 L378.1 526.5 L377.4 525.5 L376.5 524.7 L375.3 524.4 L374.1 524.6Z"/>
<path d="M370.7 228.0 L370.6 229.3 L370.9 230.5 L371.7 231.5 L372.8 232.1 L374.2 232.5 L375.3 232.7 L376.5 232.4 L377.4 231.7 L378.1 230.6 L378.3 229.5 L378.3 226.7 L378.1 225.5 L377.4 224.5 L376.4 223.8 L375.3 223.5 L374.7 223.5 L373.4 223.7 L372.2 224.5 L371.5 225.7Z"/>
<path d="M369.6 540.0 L369.5 541.2 L370.0 542.4 L370.8 543.3 L372.0 543.8 L374.4 544.4 L375.5 544.4 L376.6 544.1 L377.5 543.4 L378.1 542.4 L378.3 541.2 L378.3 537.6 L378.1 536.4 L377.4 535.4 L376.5 534.7 L375.3 534.4 L373.7 534.2 L372.6 534.4 L371.5 534.8 L370.8 535.7 L370.3 536.7Z"/>
<path d="M460.3 326.0 L461.5 325.7 L462.5 325.0 L463.2 324.0 L463.9 322.0 L464.1 320.9 L463.9 319.7 L463.3 318.7 L462.3 318.0 L460.8 317.3 L459.7 317.0 L458.6 317.1 L457.6 317.6 L456.0 318.7 L455.0 319.8 L454.7 321.3 L454.7 322.9 L455.0 324.2 L455.7 325.2 L456.8 325.9 L458.1 326.1Z"/>
<path d="M454.7 202.6 L454.9 203.8 L455.5 204.8 L456.5 205.5 L457.6 205.8 L458.8 205.7 L459.9 205.1 L460.7 204.2 L461.1 203.1 L461.1 202.9 L461.0 201.6 L460.5 200.5 L459.6 199.6 L458.4 199.2 L457.1 199.3 L457.1 199.3 L455.8 199.9 L455.0 201.0 L454.7 202.4Z"/>
<path d="M461.1 386.7 L460.7 385.5 L459.9 384.6 L458.9 384.0 L457.7 383.9 L456.5 384.2 L455.6 384.9 L454.9 385.9 L454.7 387.1 L454.7 388.1 L454.9 389.2 L455.5 390.2 L456.3 390.9 L457.4 391.3 L458.5 391.3 L458.7 391.2 L459.8 390.8 L460.6 390.0 L461.1 388.9 L461.2 387.7Z"/>
<path d="M456.8 513.1 L456.9 514.3 L457.4 515.4 L458.2 516.2 L459.3 516.6 L462.3 517.2 L463.5 517.2 L464.7 516.8 L465.5 515.9 L468.9 511.4 L469.4 510.1 L469.4 508.8 L469.2 507.6 L468.5 506.2 L467.2 505.3 L462.5 503.5 L461.3 503.2 L460.1 503.5 L459.1 504.1 L458.4 504.8 L457.7 505.7 L457.4 506.8Z"/>
<path d="M454.7 425.2 L454.9 426.4 L455.6 427.5 L456.7 428.2 L457.9 428.4 L459.1 428.2 L460.2 427.5 L462.9 424.7 L463.7 423.6 L463.9 422.3 L463.5 421.1 L462.7 420.0 L461.6 419.4 L458.8 418.6 L457.6 418.5 L456.5 418.8 L455.5 419.5 L454.9 420.5 L454.7 421.7Z"/>
<path d="M454.9 488.0 L454.7 489.1 L454.7 493.0 L454.9 494.1 L455.4 495.0 L456.1 495.7 L457.0 496.3 L458.2 496.8 L459.5 496.8 L460.6 496.3 L461.5 495.4 L462.7 493.5 L463.1 492.4 L463.2 491.2 L462.8 490.1 L461.0 487.1 L460.1 486.2 L458.9 485.7 L458.8 485.6 L457.7 485.6 L456.6 485.9 L455.7 486.6 L455.1 487.5Z"/>
<path d="M459.8 564.9 L460.8 564.0 L461.4 562.8 L461.8 561.2 L461.9 560.0 L461.6 558.9 L460.8 558.0 L459.7 557.4 L458.6 557.2 L457.7 557.3 L456.5 557.6 L455.6 558.3 L454.9 559.3 L454.7 560.5 L454.7 562.2 L455.0 563.5 L455.7 564.6 L456.8 565.3 L458.1 565.4 L459.4 565.1Z"/>
<path d="M456.7 538.8 L457.6 539.5 L458.8 539.9 L459.9 539.8 L461.8 539.3 L463.0 538.6 L463.9 537.5 L464.2 536.2 L463.9 534.8 L462.4 531.8 L461.8 530.9 L460.8 530.2 L459.7 530.0 L458.1 529.9 L456.8 530.1 L455.7 530.8 L455.0 531.8 L454.7 533.1 L454.7 535.4 L454.9 536.5 L455.5 537.5Z"/>
<path d="M459.4 367.0 L460.1 368.1 L461.1 368.8 L462.4 369.0 L468.1 368.9 L469.4 368.6 L470.5 367.7 L471.1 366.6 L471.2 365.2 L470.7 364.0 L468.5 360.4 L467.6 359.5 L466.4 359.0 L463.2 358.4 L462.0 358.4 L461.0 358.8 L460.1 359.5 L459.6 360.6 L458.7 363.4 L458.5 364.4 L458.8 365.5Z"/>
<path d="M457.5 401.7 L458.5 402.6 L459.7 403.0 L460.9 403.0 L462.1 402.4 L462.9 401.4 L465.3 397.3 L465.7 396.2 L465.6 395.0 L465.1 393.9 L464.3 393.1 L463.1 392.3 L462.0 391.8 L460.7 391.8 L457.3 392.5 L455.9 393.2 L455.0 394.3 L454.7 395.7 L454.7 396.7 L454.9 397.7 L455.3 398.6Z"/>
<path d="M455.0 523.7 L454.7 525.1 L454.7 525.7 L454.9 526.9 L455.6 527.9 L456.6 528.6 L457.7 528.9 L459.9 529.0 L461.0 528.8 L461.9 528.4 L462.7 527.6 L465.1 524.1 L465.5 523.1 L465.6 522.0 L465.3 520.9 L464.9 520.0 L464.0 518.9 L462.6 518.3 L460.4 517.8 L458.9 517.9 L457.7 518.5 L456.8 519.7Z"/>
<path d="M455.4 483.0 L456.2 483.8 L457.2 484.2 L458.9 484.6 L460.4 484.6 L461.7 483.9 L465.1 481.0 L465.9 480.0 L466.2 478.7 L466.0 477.4 L465.3 476.3 L464.2 475.6 L462.1 474.8 L461.1 474.5 L460.1 474.6 L459.1 475.1 L456.1 477.2 L455.1 478.4 L454.7 479.8 L454.7 481.0 L454.9 482.0 L455.3 482.9Z"/>
<path d="M454.7 243.1 L455.0 244.4 L455.8 245.5 L457.0 246.1 L458.3 246.2 L459.6 245.8 L460.5 244.9 L462.3 242.4 L462.8 241.1 L462.7 239.7 L462.1 238.5 L461.0 237.6 L459.2 236.9 L458.0 236.6 L456.7 236.8 L455.7 237.5 L455.0 238.5 L454.7 239.8Z"/>
<path d="M454.7 256.7 L454.9 257.9 L455.6 258.9 L456.6 259.6 L457.8 259.9 L459.0 259.7 L460.1 259.0 L461.8 257.4 L462.6 256.4 L462.8 255.1 L462.6 253.9 L461.9 252.8 L460.2 251.1 L459.1 250.4 L457.9 250.1 L456.7 250.4 L455.6 251.1 L454.9 252.1 L454.7 253.3Z"/>
<path d="M455.7 302.3 L455.5 303.6 L455.8 304.8 L456.6 305.9 L457.8 306.5 L459.1 306.6 L464.3 306.0 L465.6 305.5 L466.6 304.5 L467.1 303.8 L467.6 302.5 L467.5 301.1 L466.8 299.9 L463.1 295.9 L462.0 295.1 L460.7 294.8 L459.5 295.1 L458.4 295.8 L457.7 296.9Z"/>
<path d="M462.0 212.0 L460.8 211.7 L459.6 212.0 L458.6 212.7 L457.9 213.7 L457.7 215.0 L457.7 220.3 L458.0 221.6 L458.7 222.6 L459.8 223.3 L461.0 223.5 L461.3 223.5 L462.6 223.1 L463.6 222.3 L466.8 218.3 L467.3 217.2 L467.5 216.0 L467.2 214.9 L466.5 213.9 L465.4 213.3Z"/>
<path d="M460.8 353.9 L460.9 355.1 L461.4 356.1 L462.2 356.9 L463.4 357.4 L466.1 357.9 L467.2 357.9 L468.2 357.6 L469.1 357.0 L471.6 354.2 L472.3 353.1 L472.5 351.8 L472.1 350.5 L471.2 349.5 L467.9 347.0 L466.6 346.4 L465.2 346.4 L463.7 346.8 L462.5 347.3 L461.7 348.3 L461.3 349.5Z"/>
<path d="M456.0 443.8 L455.4 444.9 L455.3 446.2 L455.6 447.4 L456.5 448.4 L457.2 449.0 L458.4 449.6 L459.6 449.7 L460.8 449.2 L466.0 446.2 L466.9 445.3 L467.5 444.1 L467.5 442.8 L467.0 441.7 L465.4 439.2 L464.4 438.3 L463.2 437.9 L463.1 437.8 L462.0 437.8 L461.0 438.2 L460.1 438.9Z"/>
<path d="M454.7 333.2 L455.0 334.6 L455.8 335.7 L457.0 336.3 L458.4 336.4 L459.7 335.9 L463.0 333.7 L463.8 332.9 L464.3 331.8 L464.4 330.6 L464.0 329.5 L463.5 328.6 L462.7 327.7 L461.7 327.2 L460.5 327.0 L457.7 327.1 L456.6 327.4 L455.6 328.1 L454.9 329.1 L454.7 330.3Z"/>
<path d="M460.8 376.2 L460.1 375.2 L459.1 374.5 L457.9 374.3 L456.7 374.5 L455.6 375.2 L454.9 376.3 L454.7 377.5 L454.7 378.8 L454.9 380.0 L455.6 381.0 L456.7 381.7 L457.9 382.0 L458.4 382.0 L459.7 381.8 L460.7 381.1 L461.4 380.0 L461.7 378.8 L461.4 377.5Z"/>
<path d="M458.1 466.1 L459.1 466.4 L460.1 466.3 L461.1 465.9 L464.7 463.8 L465.7 462.9 L466.2 461.8 L466.2 460.5 L465.8 459.4 L465.0 458.4 L462.4 456.6 L461.2 456.0 L460.0 456.0 L458.9 456.4 L458.0 457.2 L455.4 460.5 L454.9 461.4 L454.7 462.5 L454.7 462.5 L454.9 463.6 L455.6 464.6 L456.5 465.3Z"/>
<path d="M460.1 417.9 L461.3 418.0 L462.5 417.7 L463.4 416.9 L464.0 415.9 L465.6 411.2 L465.8 410.0 L465.6 408.8 L464.9 407.9 L462.8 405.8 L461.6 405.0 L460.2 404.8 L460.2 404.8 L459.2 405.1 L458.3 405.7 L455.7 408.0 L455.0 409.1 L454.7 410.4 L454.7 414.0 L455.0 415.3 L455.8 416.4 L457.0 417.0Z"/>
<path d="M460.0 549.8 L460.9 550.5 L462.0 550.8 L463.1 550.8 L464.1 550.3 L465.0 549.5 L466.2 547.8 L466.7 546.8 L466.8 545.7 L466.5 544.6 L465.2 542.1 L464.6 541.2 L463.7 540.6 L462.6 540.3 L461.5 540.4 L459.7 540.9 L458.4 541.5 L457.6 542.7 L457.1 543.7 L456.8 545.0 L457.0 546.2 L457.6 547.2Z"/>
<path d="M457.2 231.7 L457.0 232.9 L457.3 234.0 L458.0 234.9 L458.9 235.6 L462.6 237.3 L463.8 237.6 L465.0 237.4 L466.0 236.8 L468.2 235.0 L468.9 234.0 L469.3 232.7 L469.1 231.4 L468.4 230.4 L464.0 225.7 L463.0 225.0 L461.7 224.7 L460.4 225.0 L459.3 225.8 L458.7 227.0Z"/>
<path d="M462.8 188.5 L461.7 188.7 L460.7 189.3 L460.0 190.2 L459.7 191.3 L459.7 192.4 L460.5 195.9 L461.0 196.9 L461.7 197.8 L462.7 198.3 L463.8 198.4 L464.9 198.3 L466.1 198.0 L467.2 197.2 L470.0 193.7 L470.6 192.7 L470.7 191.5 L470.4 190.3 L469.7 189.4 L468.7 188.7 L467.5 188.5Z"/>
<path d="M464.0 370.0 L462.8 370.2 L461.8 371.0 L461.1 372.0 L460.9 373.2 L461.2 374.4 L462.5 377.7 L463.3 378.7 L464.4 379.4 L465.6 379.6 L466.7 379.6 L468.1 379.2 L469.2 378.1 L471.4 374.8 L471.9 373.8 L471.9 372.6 L471.5 371.5 L470.8 370.6 L469.8 370.0 L468.7 369.9Z"/>
<path d="M457.7 292.2 L458.7 293.0 L460.0 293.4 L460.7 293.4 L461.8 293.3 L462.8 292.8 L467.9 289.0 L468.9 287.9 L469.2 286.5 L469.0 285.1 L468.7 284.4 L468.0 283.4 L466.9 282.7 L465.7 282.5 L461.7 282.5 L460.7 282.7 L459.8 283.3 L459.1 284.0 L456.8 287.7 L456.4 288.9 L456.4 290.2 L457.0 291.4Z"/>
<path d="M458.2 342.5 L458.6 343.6 L459.3 344.6 L459.9 345.2 L460.8 345.8 L461.8 346.0 L462.9 345.9 L465.2 345.4 L466.3 344.8 L467.2 343.9 L469.8 339.4 L470.3 338.0 L470.0 336.5 L469.4 335.2 L468.6 334.0 L467.4 333.4 L466.0 333.3 L464.7 333.8 L459.4 337.3 L458.6 338.1 L458.1 339.1 L458.0 340.3Z"/>
<path d="M459.3 275.1 L458.7 276.1 L458.6 277.2 L458.8 278.3 L459.2 279.5 L459.9 280.6 L461.0 281.3 L462.3 281.5 L465.6 281.5 L466.8 281.2 L467.9 280.5 L468.6 279.3 L468.6 279.2 L468.8 277.9 L468.4 276.7 L467.6 275.7 L464.9 273.4 L463.8 272.8 L462.5 272.7 L461.3 273.0 L460.3 273.8Z"/>
<path d="M462.7 252.2 L463.6 252.8 L464.7 253.1 L465.9 253.0 L466.9 252.4 L467.7 251.6 L468.9 249.5 L469.3 248.3 L469.2 247.0 L468.7 245.9 L467.3 244.1 L466.4 243.3 L465.3 242.9 L464.1 243.0 L463.0 243.5 L462.2 244.3 L460.7 246.5 L460.2 247.5 L460.1 248.6 L460.4 249.6 L461.0 250.5Z"/>
<path d="M464.2 552.3 L463.7 553.5 L463.6 554.8 L464.1 556.0 L465.0 556.9 L466.2 557.3 L471.1 558.2 L472.5 558.1 L473.6 557.6 L474.5 556.6 L476.6 552.8 L477.0 551.2 L477.0 550.8 L476.8 549.6 L476.2 548.6 L475.3 547.9 L474.2 547.6 L470.0 547.1 L468.9 547.2 L467.8 547.6 L467.0 548.4Z"/>
<path d="M462.4 316.9 L463.5 317.2 L464.7 317.1 L465.7 316.6 L466.5 315.8 L467.7 313.9 L468.1 312.9 L468.1 311.8 L467.8 310.7 L466.8 308.8 L466.0 307.8 L464.9 307.2 L463.6 307.1 L461.2 307.3 L460.0 307.8 L459.0 308.7 L458.5 309.9 L458.5 311.3 L459.1 314.0 L459.8 315.3 L460.9 316.2Z"/>
<path d="M461.2 497.7 L460.7 499.0 L460.8 500.4 L461.5 501.6 L462.7 502.4 L467.1 504.2 L468.3 504.4 L469.6 504.1 L470.6 503.4 L472.6 501.3 L473.2 500.4 L473.4 499.3 L473.3 498.2 L472.7 497.2 L469.9 493.5 L468.8 492.5 L467.3 492.2 L466.3 492.3 L464.9 492.7 L463.7 493.7Z"/>
<path d="M460.7 471.3 L461.0 472.4 L461.7 473.3 L462.6 473.9 L465.8 475.2 L466.9 475.4 L468.1 475.2 L469.1 474.7 L469.8 473.8 L470.1 473.2 L470.5 472.1 L470.5 471.0 L470.1 469.9 L468.0 466.6 L467.2 465.7 L466.1 465.2 L464.9 465.2 L463.7 465.6 L462.0 466.6 L461.1 467.4 L460.5 468.5 L460.5 469.7Z"/>
<path d="M460.6 435.3 L461.6 436.3 L462.8 436.8 L462.9 436.8 L464.0 436.8 L465.0 436.4 L465.9 435.7 L468.8 432.2 L469.5 430.9 L469.5 429.5 L468.9 428.2 L467.7 426.6 L466.7 425.7 L465.4 425.3 L464.0 425.5 L462.9 426.2 L459.8 429.2 L459.1 430.4 L458.9 431.8 L459.4 433.2Z"/>
<path d="M464.6 534.0 L465.2 534.9 L466.2 535.5 L467.3 535.8 L468.5 535.6 L470.2 535.0 L471.3 534.4 L472.1 533.4 L473.7 530.3 L474.0 528.8 L473.6 527.3 L473.3 526.8 L472.7 525.9 L471.8 525.3 L469.3 524.3 L468.2 524.0 L467.2 524.1 L466.2 524.6 L465.4 525.4 L463.5 528.1 L463.1 529.1 L463.0 530.2 L463.3 531.3Z"/>
<path d="M462.1 449.6 L461.2 450.5 L460.7 451.6 L460.6 452.9 L461.0 454.1 L461.9 455.0 L464.9 457.2 L466.2 457.7 L467.6 457.7 L468.8 457.1 L469.7 456.0 L471.9 451.3 L472.2 450.1 L472.0 448.8 L471.8 448.2 L471.0 447.1 L469.8 446.4 L468.5 446.2 L467.2 446.6Z"/>
<path d="M461.3 207.9 L461.4 209.3 L462.1 210.6 L463.3 211.4 L464.8 212.0 L466.0 212.2 L467.2 212.0 L468.2 211.3 L468.9 210.4 L470.6 206.6 L470.9 205.4 L470.7 204.1 L470.0 203.0 L467.6 200.6 L466.7 199.9 L465.5 199.7 L464.4 199.8 L463.4 200.4 L462.6 201.2 L462.2 202.3Z"/>
<path d="M466.6 521.1 L467.2 522.1 L468.2 522.7 L470.6 523.7 L472.0 524.0 L473.4 523.6 L474.5 522.7 L476.4 520.1 L476.8 519.2 L477.0 518.2 L477.0 515.9 L476.8 514.7 L476.1 513.6 L475.1 512.9 L472.8 512.0 L471.4 511.7 L470.0 512.1 L468.9 513.0 L466.3 516.6 L465.8 517.7 L465.7 518.8 L466.0 519.9Z"/>
<path d="M462.5 562.8 L462.4 564.3 L463.1 565.7 L465.0 567.9 L466.0 568.8 L467.3 569.1 L468.7 568.8 L471.0 567.9 L472.1 567.0 L472.8 565.7 L473.5 563.1 L473.6 561.8 L473.1 560.6 L472.2 559.6 L470.9 559.2 L466.6 558.4 L465.5 558.4 L464.4 558.9 L463.5 559.7 L463.0 560.8Z"/>
<path d="M463.7 489.7 L464.4 490.6 L465.4 491.1 L466.5 491.3 L467.2 491.2 L468.7 490.8 L469.8 489.8 L472.2 486.0 L472.7 484.7 L472.5 483.3 L471.8 482.1 L471.0 481.2 L470.0 480.5 L468.8 480.3 L467.6 480.4 L466.6 481.0 L463.3 483.9 L462.6 484.7 L462.2 485.8 L462.2 486.9 L462.6 487.9Z"/>
<path d="M467.1 237.2 L466.3 238.2 L466.0 239.4 L466.1 240.6 L466.6 241.6 L469.9 245.8 L471.0 246.7 L472.5 247.1 L473.8 247.1 L474.8 246.9 L475.8 246.3 L476.5 245.4 L476.6 245.3 L477.0 243.7 L477.0 239.4 L476.7 238.2 L476.0 237.1 L474.9 236.4 L471.9 235.3 L470.7 235.1 L469.6 235.3 L468.6 235.9Z"/>
<path d="M465.6 330.4 L466.4 331.2 L467.4 331.8 L468.6 332.0 L469.7 331.7 L470.7 331.0 L473.6 328.1 L474.3 327.1 L474.5 325.8 L474.3 324.6 L473.6 323.6 L472.5 322.9 L468.7 321.3 L467.5 321.1 L466.2 321.4 L465.2 322.1 L464.5 323.2 L463.9 324.9 L463.7 326.3 L464.1 327.7Z"/>
<path d="M464.8 380.7 L463.5 381.0 L462.5 381.8 L461.9 383.0 L461.8 384.3 L462.4 389.3 L462.9 390.6 L463.8 391.6 L466.0 393.0 L467.3 393.5 L468.6 393.5 L469.8 392.9 L470.6 391.9 L471.9 389.5 L472.2 388.4 L472.2 387.3 L471.8 386.3 L469.3 382.1 L468.5 381.3 L467.5 380.7 L466.4 380.6Z"/>
<path d="M460.5 266.5 L461.7 267.2 L463.0 267.4 L464.4 267.0 L467.1 265.4 L468.0 264.7 L468.5 263.7 L468.7 262.6 L468.7 259.7 L468.4 258.5 L467.7 257.5 L466.7 256.8 L465.5 256.5 L464.3 256.8 L463.3 257.4 L459.6 260.9 L458.9 261.9 L458.6 263.2 L458.8 264.4 L459.5 265.5Z"/>
<path d="M465.8 267.3 L464.9 268.1 L464.3 269.2 L464.2 270.4 L464.6 271.6 L465.4 272.5 L468.3 275.0 L469.4 275.6 L470.7 275.7 L471.8 275.4 L473.2 274.7 L474.3 273.7 L474.9 272.3 L475.1 270.9 L475.0 269.7 L474.4 268.6 L473.5 267.7 L470.8 266.2 L469.8 265.9 L468.7 265.9 L467.7 266.2Z"/>
<path d="M465.6 291.9 L464.7 292.9 L464.3 294.2 L464.5 295.5 L465.1 296.7 L467.3 299.0 L468.2 299.7 L469.3 300.0 L470.5 299.9 L471.6 299.4 L472.4 298.5 L474.7 294.7 L475.1 293.5 L475.0 292.1 L474.7 291.2 L474.0 289.9 L472.9 289.1 L472.3 288.9 L471.3 288.6 L470.2 288.8 L469.2 289.3Z"/>
<path d="M464.9 416.4 L464.7 417.6 L465.0 418.8 L465.8 419.8 L466.9 420.4 L468.1 420.6 L469.3 420.3 L473.5 418.4 L474.5 417.6 L475.1 416.6 L475.3 415.3 L475.2 412.7 L474.9 411.5 L474.2 410.5 L473.2 409.8 L472.0 409.6 L469.5 409.6 L468.2 409.9 L467.1 410.7 L466.5 411.8Z"/>
<path d="M467.7 304.8 L467.2 305.8 L467.2 306.9 L467.5 307.9 L468.6 310.1 L469.4 311.1 L470.3 311.7 L471.5 311.9 L473.8 311.9 L475.0 311.7 L476.0 311.0 L476.7 309.9 L477.0 308.7 L477.0 307.6 L476.7 306.2 L475.7 305.0 L472.9 303.0 L471.7 302.4 L470.4 302.4 L469.2 302.9 L468.3 303.8Z"/>
<path d="M468.5 442.2 L469.5 443.1 L470.6 443.5 L471.9 443.5 L473.1 443.0 L475.7 441.1 L476.7 440.0 L477.0 438.5 L477.0 434.6 L476.7 433.2 L475.8 432.1 L474.4 431.5 L473.1 431.2 L472.0 431.2 L470.9 431.5 L470.0 432.3 L467.1 435.8 L466.4 437.0 L466.4 438.4 L466.9 439.7Z"/>
<path d="M469.4 211.7 L469.1 212.8 L469.2 213.9 L469.8 215.0 L470.6 215.8 L471.7 216.2 L472.9 216.2 L474.0 215.7 L475.5 214.8 L476.3 214.1 L476.8 213.1 L477.0 212.1 L477.0 209.8 L476.8 208.6 L476.1 207.5 L475.1 206.8 L473.9 206.6 L472.7 206.8 L471.6 207.4 L470.9 208.4Z"/>
<path d="M465.4 221.7 L464.8 222.7 L464.7 223.8 L464.9 224.9 L465.5 225.9 L467.2 227.7 L468.4 228.5 L469.7 228.7 L471.1 228.3 L472.1 227.4 L473.8 225.2 L474.4 224.1 L474.5 222.9 L474.1 221.8 L472.9 219.4 L472.1 218.4 L471.0 217.8 L469.7 217.7 L468.5 218.1 L467.6 218.9Z"/>
<path d="M463.8 402.0 L463.4 403.3 L463.5 404.6 L464.3 405.8 L466.1 407.7 L467.2 408.4 L468.4 408.6 L473.5 408.6 L474.6 408.4 L475.5 407.8 L476.2 407.0 L476.6 405.9 L477.0 403.7 L477.0 403.2 L477.0 402.3 L476.7 401.0 L475.9 399.9 L471.6 396.1 L470.6 395.5 L469.5 395.3 L468.4 395.4 L467.4 396.0 L466.7 396.9Z"/>
<path d="M469.1 280.8 L468.9 281.9 L469.2 283.1 L470.5 286.0 L471.1 287.1 L472.2 287.7 L472.6 287.9 L473.8 288.2 L475.0 287.9 L476.1 287.2 L476.8 286.2 L477.0 285.0 L477.0 279.1 L476.7 277.8 L476.0 276.8 L474.9 276.1 L473.6 275.9 L472.3 276.3 L471.5 276.7 L470.5 277.5 L469.9 278.5Z"/>
<path d="M467.7 315.8 L467.2 317.1 L467.3 318.5 L468.0 319.7 L469.2 320.5 L471.6 321.4 L472.7 321.6 L473.8 321.5 L474.8 320.9 L475.6 320.0 L475.9 319.0 L476.3 316.6 L476.2 315.2 L475.6 314.0 L474.5 313.2 L473.2 312.9 L471.3 312.9 L470.2 313.1 L469.3 313.6 L468.6 314.4Z"/>
<path d="M470.4 357.0 L469.6 358.2 L469.5 359.6 L470.0 360.9 L471.1 362.7 L471.9 363.5 L472.9 364.1 L474.1 364.2 L475.2 363.8 L476.2 363.1 L476.8 362.1 L477.0 361.0 L477.0 358.0 L476.8 356.8 L476.0 355.8 L475.0 355.1 L473.7 354.8 L472.5 355.1 L471.5 355.9Z"/>
<path d="M471.6 460.0 L470.3 460.0 L469.2 460.4 L468.2 461.3 L467.7 462.4 L467.7 463.7 L468.1 464.8 L470.6 468.9 L471.6 469.9 L472.8 470.4 L474.2 470.3 L474.7 470.2 L475.9 469.5 L476.7 468.4 L477.0 467.1 L477.0 463.9 L476.7 462.5 L475.8 461.4 L474.6 460.8Z"/>
<path d="M470.0 475.5 L469.6 476.8 L469.8 478.2 L470.5 479.3 L471.5 480.4 L472.6 481.1 L473.8 481.3 L475.0 481.1 L476.1 480.4 L476.8 479.4 L477.0 478.1 L477.0 475.2 L476.8 474.1 L476.1 473.1 L475.2 472.3 L474.0 472.0 L472.8 472.2 L471.8 472.8 L471.0 473.7Z"/>
<path d="M469.8 421.2 L468.8 421.9 L468.2 422.8 L467.9 423.9 L468.0 425.0 L468.5 426.0 L470.6 428.8 L471.5 429.6 L472.6 430.1 L473.2 430.2 L474.3 430.2 L475.3 429.8 L476.2 429.1 L476.8 428.2 L477.0 427.0 L477.0 422.8 L476.7 421.6 L476.0 420.5 L474.9 419.9 L473.7 419.6 L472.4 419.9Z"/>
<path d="M467.9 536.9 L466.7 537.6 L465.9 538.7 L465.7 540.0 L466.0 541.3 L467.4 544.3 L468.1 545.2 L468.9 545.8 L469.9 546.1 L473.4 546.5 L474.8 546.4 L475.9 545.7 L476.7 544.6 L477.0 543.3 L477.0 543.1 L476.8 542.0 L476.2 541.0 L473.1 537.3 L472.1 536.5 L470.9 536.1 L469.6 536.3Z"/>
<path d="M477.0 333.8 L476.8 332.6 L476.1 331.6 L475.0 330.9 L473.8 330.6 L472.6 330.9 L471.5 331.6 L471.3 331.8 L470.6 332.9 L470.3 334.1 L470.6 335.3 L470.9 335.9 L471.6 337.0 L472.6 337.7 L473.8 337.9 L475.0 337.6 L476.1 336.9 L476.8 335.9 L477.0 334.7Z"/>
<path d="M471.0 489.8 L470.5 491.0 L470.6 492.3 L471.1 493.4 L471.3 493.6 L472.3 494.4 L473.5 494.8 L474.8 494.7 L476.0 494.0 L476.7 492.9 L477.0 491.6 L477.0 491.3 L476.8 490.2 L476.2 489.2 L475.2 488.5 L474.1 488.1 L473.0 488.2 L471.9 488.7 L471.1 489.6Z"/>
<path d="M468.9 342.9 L468.5 344.0 L468.5 345.1 L468.9 346.2 L469.7 347.1 L471.8 348.7 L472.9 349.3 L474.1 349.4 L475.2 349.1 L476.2 348.4 L476.8 347.4 L477.0 346.2 L477.0 342.6 L476.7 341.2 L475.9 340.1 L474.6 339.5 L473.8 339.2 L472.4 339.2 L471.1 339.7 L470.2 340.7Z"/>
<path d="M468.3 252.4 L467.9 253.5 L467.9 254.7 L468.4 255.8 L469.2 256.6 L470.3 257.1 L471.4 257.2 L474.2 256.9 L475.3 256.5 L476.2 255.8 L476.8 254.8 L477.0 253.7 L477.0 251.3 L476.6 249.7 L476.5 249.7 L475.8 248.8 L474.8 248.2 L473.7 248.1 L472.7 248.1 L471.6 248.3 L470.7 248.8 L470.0 249.6Z"/>
<path d="M471.5 203.0 L472.5 203.8 L473.7 204.0 L473.8 204.0 L475.0 203.8 L476.1 203.1 L476.8 202.0 L477.0 200.8 L477.0 195.7 L476.7 194.4 L476.0 193.4 L474.9 192.7 L473.6 192.5 L472.3 192.9 L471.3 193.7 L469.0 196.5 L468.5 197.5 L468.3 198.7 L468.6 199.8 L469.2 200.8Z"/>
<path d="M470.3 508.4 L471.0 509.7 L472.2 510.6 L472.5 510.8 L473.8 511.0 L475.0 510.8 L476.0 510.1 L476.8 509.1 L477.0 507.8 L477.0 506.1 L476.7 504.9 L476.0 503.8 L475.0 503.1 L473.7 502.9 L472.5 503.2 L471.5 503.9 L470.9 504.5 L470.2 505.9 L470.1 507.4Z"/>
<path d="M470.3 378.3 L469.8 379.4 L469.8 380.6 L470.2 381.7 L471.1 383.1 L471.8 384.0 L472.9 384.6 L474.1 384.7 L475.2 384.4 L476.2 383.6 L476.8 382.6 L477.0 381.5 L477.0 378.8 L476.8 377.7 L476.2 376.7 L475.3 376.0 L474.2 375.6 L473.0 375.7 L471.9 376.2 L471.1 377.0Z"/>
<path d="M477.0 261.2 L476.7 259.8 L475.9 258.8 L474.8 258.1 L473.4 258.0 L472.5 258.1 L471.4 258.4 L470.5 259.1 L469.9 260.2 L469.7 261.3 L469.7 262.6 L469.9 263.7 L470.5 264.7 L471.3 265.4 L472.2 265.9 L473.5 266.3 L474.8 266.1 L475.9 265.5 L476.7 264.4 L477.0 263.1Z"/>
</g>
<rect x="382" y="188" width="68" height="45" fill="#fff"/>
<rect x="382" y="233" width="68" height="33" fill="#eaf6fa"/>
<rect x="382" y="266" width="68" height="287" fill="#cce9f6"/>
<rect x="382" y="553" width="68" height="17" fill="#fff"/>
<g fill="#fff" stroke="#5a5a5a" stroke-width="1.1" stroke-linejoin="round">
<path d="M355.8 572.5 L354.8 573.6 L354.5 575.0 L354.5 576.1 L354.8 577.4 L355.6 578.5 L356.9 579.2 L358.2 579.5 L359.6 579.6 L360.8 579.0 L365.6 575.7 L366.5 574.8 L367.0 573.6 L367.0 573.3 L367.0 572.0 L366.4 570.8 L366.3 570.6 L365.5 569.9 L364.5 569.4 L362.4 568.9 L361.0 568.9 L359.7 569.5Z"/>
<path d="M357.8 558.8 L357.6 560.1 L358.0 561.4 L360.4 566.3 L361.3 567.3 L362.5 567.9 L362.8 568.0 L363.9 568.0 L365.0 567.7 L366.0 566.9 L366.5 565.9 L367.5 563.2 L367.6 562.2 L367.4 561.1 L366.9 560.2 L364.5 557.2 L363.7 556.5 L362.6 556.1 L361.5 556.1 L360.5 556.3 L359.5 556.6 L358.6 557.3 L358.1 558.3Z"/>
<path d="M367.4 566.6 L367.2 567.9 L367.5 569.2 L368.4 570.2 L369.5 570.8 L370.8 570.8 L374.9 570.3 L376.1 569.8 L377.0 568.9 L377.1 568.8 L377.6 567.5 L377.6 566.2 L376.9 563.4 L376.4 562.3 L375.5 561.4 L374.3 561.0 L373.1 561.0 L370.8 561.5 L369.8 561.9 L368.9 562.6 L368.4 563.6Z"/>
<path d="M369.5 553.5 L368.3 553.7 L367.3 554.4 L366.6 555.3 L366.3 556.5 L366.5 557.7 L367.0 558.7 L367.6 559.4 L368.5 560.1 L369.6 560.5 L370.7 560.5 L373.9 559.8 L375.1 559.3 L376.0 558.3 L376.4 557.0 L376.3 555.7 L375.6 554.6 L374.6 553.8 L373.3 553.5Z"/>
<path d="M371.0 571.8 L369.8 572.3 L368.8 573.1 L368.3 574.3 L368.3 575.5 L368.7 576.7 L371.5 581.0 L372.2 581.8 L373.1 582.3 L374.2 582.5 L374.5 582.5 L375.8 582.2 L376.8 581.5 L378.1 580.2 L378.7 579.2 L378.9 577.9 L378.7 576.7 L377.2 573.3 L376.4 572.2 L375.2 571.5 L373.8 571.4Z"/>
<path d="M377.6 558.8 L377.2 559.9 L377.3 561.0 L378.3 564.8 L378.9 566.0 L380.0 566.9 L381.4 567.2 L383.9 567.2 L385.2 567.0 L386.2 566.2 L386.9 565.0 L387.1 563.7 L386.6 559.2 L386.3 558.0 L385.5 557.0 L384.4 556.4 L383.2 556.3 L380.4 556.6 L379.3 556.8 L378.4 557.4 L377.8 558.3Z"/>
<path d="M381.0 568.2 L379.7 568.5 L378.7 569.2 L378.0 570.2 L377.7 571.5 L378.0 572.7 L379.6 576.4 L380.3 577.4 L381.3 578.1 L382.5 578.4 L384.3 578.4 L385.5 578.2 L386.5 577.7 L387.2 576.8 L387.6 575.7 L387.6 574.6 L386.8 570.8 L386.2 569.5 L385.1 568.6 L383.7 568.2Z"/>
<path d="M390.8 566.8 L389.5 567.2 L388.4 568.0 L387.8 569.3 L387.8 570.7 L388.9 575.9 L389.3 576.9 L390.1 577.8 L391.1 578.3 L392.3 578.4 L394.4 578.2 L395.6 577.8 L396.6 577.0 L397.2 575.8 L398.1 572.1 L398.2 570.8 L397.7 569.5 L396.9 568.2 L396.1 567.4 L395.2 566.9 L394.1 566.7Z"/>
<path d="M391.5 554.1 L390.2 554.0 L389.1 554.4 L388.1 555.2 L387.6 556.3 L387.5 557.5 L388.0 562.9 L388.3 564.1 L389.1 565.0 L390.1 565.6 L391.3 565.8 L393.4 565.8 L394.7 565.4 L395.8 564.6 L396.4 563.4 L396.9 561.6 L397.0 560.2 L396.5 559.0 L394.5 555.8 L393.7 554.9 L392.6 554.4Z"/>
<path d="M397.1 564.7 L397.0 566.1 L397.5 567.3 L398.0 568.0 L398.9 569.0 L400.2 569.5 L401.6 569.4 L404.1 568.6 L405.2 568.1 L406.0 567.1 L406.3 565.9 L406.6 564.0 L406.4 562.7 L405.7 561.5 L404.6 560.7 L403.3 560.5 L400.6 560.5 L399.3 560.8 L398.2 561.7 L397.6 562.9Z"/>
<path d="M401.2 570.5 L400.2 571.0 L399.5 571.8 L399.0 572.8 L398.7 574.1 L398.6 575.2 L398.9 576.3 L399.6 577.2 L400.5 577.8 L401.7 578.1 L407.9 578.3 L409.2 578.1 L410.3 577.3 L411.0 576.3 L411.2 575.7 L411.4 574.4 L411.1 573.1 L410.2 572.0 L407.8 570.0 L406.4 569.4 L404.9 569.4Z"/>
<path d="M410.7 560.1 L409.6 560.3 L408.7 560.9 L408.0 561.8 L407.7 562.9 L407.3 566.5 L407.4 567.5 L407.8 568.5 L408.5 569.3 L411.2 571.5 L412.3 572.1 L413.4 572.3 L414.5 572.0 L416.5 571.1 L417.5 570.5 L418.1 569.6 L418.4 568.4 L418.3 567.3 L417.8 566.3 L414.0 561.3 L412.8 560.3 L411.3 560.0Z"/>
<path d="M417.5 564.3 L418.5 565.1 L419.7 565.5 L421.0 565.4 L422.2 564.8 L423.0 563.7 L424.6 560.2 L424.9 559.1 L424.8 557.8 L424.1 556.8 L423.2 556.0 L422.0 555.7 L418.7 555.4 L417.7 555.5 L416.7 556.0 L415.9 556.7 L415.3 557.5 L414.7 558.7 L414.7 560.1 L415.3 561.3Z"/>
<path d="M414.3 573.2 L413.2 573.9 L412.6 575.0 L411.4 577.9 L411.2 578.9 L411.3 580.0 L411.4 580.2 L412.0 581.3 L412.9 582.1 L413.0 582.1 L414.5 582.5 L418.8 582.5 L420.0 582.3 L421.0 581.6 L421.7 580.5 L422.0 579.3 L421.7 578.1 L420.1 574.2 L419.4 573.2 L418.3 572.5 L417.1 572.2 L415.9 572.5Z"/>
<path d="M424.9 569.9 L423.7 569.8 L422.6 570.1 L421.7 570.9 L421.1 571.9 L420.9 573.0 L421.2 574.2 L423.6 579.9 L424.4 581.1 L425.6 581.8 L427.2 582.3 L428.4 582.4 L429.6 582.0 L430.6 581.5 L431.7 580.7 L432.3 579.5 L432.4 578.2 L431.6 573.5 L431.2 572.4 L430.4 571.5 L429.2 570.9Z"/>
<path d="M433.4 578.4 L433.8 579.5 L434.5 580.4 L435.6 581.0 L436.7 581.4 L438.1 581.5 L439.4 581.1 L440.4 580.2 L444.0 575.0 L444.5 573.9 L444.6 572.6 L444.2 571.5 L443.3 570.6 L439.7 567.8 L438.7 567.3 L437.6 567.1 L436.4 567.4 L435.5 568.0 L433.4 570.1 L432.7 571.3 L432.5 572.8Z"/>
<path d="M423.7 564.6 L423.4 565.6 L423.5 566.8 L423.9 567.8 L424.7 568.6 L425.8 569.0 L429.9 570.1 L430.9 570.1 L432.0 569.9 L432.9 569.2 L436.0 566.2 L436.7 565.1 L436.9 563.9 L436.9 563.5 L436.8 562.5 L436.2 561.5 L435.4 560.8 L430.7 558.0 L429.5 557.5 L428.2 557.6 L427.0 558.2 L426.2 559.3Z"/>
<path d="M436.7 553.5 L435.6 553.7 L434.6 554.3 L433.8 555.3 L433.5 556.4 L433.6 557.6 L434.2 558.6 L435.0 559.4 L435.4 559.7 L436.7 560.1 L438.0 560.0 L439.1 559.4 L439.4 559.2 L440.2 558.1 L440.6 556.9 L440.4 555.6 L439.7 554.5 L438.6 553.8 L437.4 553.5Z"/>
<path d="M444.7 570.4 L445.8 570.9 L447.1 571.0 L448.2 570.6 L449.2 569.8 L450.4 568.2 L451.0 566.9 L451.0 565.5 L450.3 562.3 L449.8 561.1 L448.9 560.2 L447.7 559.8 L442.7 559.1 L441.4 559.2 L440.2 559.8 L439.1 560.7 L438.2 561.9 L437.9 563.2 L437.9 563.6 L438.3 565.0 L439.2 566.1Z"/>
<path d="M443.5 577.5 L443.0 578.5 L442.9 579.7 L443.3 580.8 L444.0 581.7 L445.0 582.3 L446.1 582.5 L449.7 582.5 L451.0 582.3 L452.0 581.6 L452.7 580.5 L452.9 579.3 L452.7 578.1 L452.0 577.1 L449.9 574.9 L448.8 574.1 L447.4 573.9 L446.0 574.4 L445.0 575.3Z"/>
<path d="M451.9 558.6 L451.2 559.9 L451.2 561.4 L451.8 564.1 L452.4 565.4 L453.5 566.3 L454.9 566.6 L459.4 566.6 L460.6 566.4 L461.6 565.8 L462.3 565.1 L463.0 564.1 L463.3 562.9 L463.2 561.7 L462.6 560.7 L461.7 559.9 L456.5 557.1 L455.1 556.7 L453.7 557.0 L452.6 557.8Z"/>
<path d="M450.3 569.9 L449.8 570.9 L449.7 572.1 L449.9 573.2 L450.6 574.1 L454.8 578.5 L455.9 579.3 L457.2 579.5 L458.5 579.2 L459.6 578.4 L459.7 578.2 L460.3 577.2 L460.5 576.1 L460.4 570.8 L460.1 569.5 L459.4 568.5 L458.4 567.8 L457.2 567.6 L453.7 567.6 L452.3 567.9 L451.2 568.8Z"/>
<path d="M466.9 566.9 L465.9 566.2 L464.6 565.9 L463.4 566.2 L462.3 566.9 L461.6 567.9 L461.4 569.2 L461.4 573.3 L461.7 574.6 L462.5 575.7 L463.7 576.3 L465.1 576.4 L467.1 576.1 L468.2 575.8 L469.1 575.0 L469.7 574.0 L470.1 572.9 L470.3 571.7 L470.0 570.6 L469.4 569.6Z"/>
<path d="M464.9 557.3 L464.7 558.5 L464.9 559.7 L465.6 560.7 L466.6 561.4 L467.8 561.6 L469.0 561.4 L473.4 559.7 L474.5 559.0 L475.2 558.0 L475.5 556.7 L475.2 555.5 L474.5 554.4 L473.5 553.7 L472.3 553.5 L468.5 553.5 L467.3 553.7 L466.3 554.5 L465.6 555.5Z"/>
<path d="M470.3 569.1 L471.1 569.7 L472.1 570.1 L473.2 570.0 L474.9 569.7 L476.3 569.1 L477.2 568.0 L477.5 566.5 L477.5 564.4 L477.3 563.2 L477.1 562.7 L476.4 561.7 L475.4 561.0 L474.2 560.7 L472.9 560.9 L469.8 562.2 L468.8 562.9 L468.1 563.9 L467.8 565.1 L468.0 566.3 L468.7 567.3Z"/>
<path d="M471.7 578.6 L472.7 579.5 L474.0 579.9 L475.3 579.8 L476.4 579.1 L477.2 578.0 L477.5 576.7 L477.5 574.1 L477.3 573.0 L476.7 572.0 L475.9 571.3 L474.8 570.9 L473.7 571.0 L473.5 571.0 L472.4 571.4 L471.6 572.1 L471.1 573.1 L470.5 574.6 L470.4 576.2 L471.0 577.6Z"/>
</g>
<g stroke="#b8c4cc" stroke-width="1" stroke-dasharray="4 4" fill="none"><line x1="386" y1="236" x2="449" y2="236"/></g><g stroke="#8a969e" stroke-width="1.2" fill="none"><path d="M385 244.5 L389 244.5 M393 244.5 Q395.5 241 398 243.5 L400 243.5 M407 244.5 L411 244.5 M415 244.5 Q417.5 241 420 243.5 L422 243.5 M427 244.5 L431 244.5 M435 244.5 Q437.5 241 440 243.5 L442 243.5 M443 244.5 L447 244.5 "/><path d="M386 250.5 L390 250.5 M393 250.5 L397 250.5 M400 250.5 L404 250.5 M407 250.5 L411 250.5 M414 250.5 L418 250.5 M421 250.5 L425 250.5 M428 250.5 L432 250.5 M435 250.5 L439 250.5 M442 250.5 L446 250.5 "/></g>
<rect x="378.8" y="170" width="3" height="400" fill="#f4f4f4"/><rect x="450.4" y="170" width="3.8" height="400" fill="#f4f4f4"/>
<g stroke="#333" stroke-width="1.3" fill="none">
<path d="M368.75 168.75 L368.75 171.5 Q369.5 173 371 173 L377 173 Q378.8 173 378.8 175 L378.8 570"/><line x1="381.8" y1="168.75" x2="381.8" y2="570"/>
<path d="M462 168.75 L462 171.5 Q461.5 173 460 173 L456 173 Q454.2 173 454.2 175 L454.2 570"/><line x1="450.4" y1="168.75" x2="450.4" y2="570"/>
</g>
<rect x="360.4" y="155.8" width="110.4" height="13" rx="2.2" fill="#fff" stroke="#333" stroke-width="1.4"/>
<g stroke="#1a1a1a" stroke-width="1.7"><line x1="338" y1="232.8" x2="450" y2="232.8"/><line x1="338" y1="265.7" x2="450" y2="265.7"/></g>
<path d="M334.5 232.8 L342.5 230.2 L342.5 235.4Z M334.5 265.7 L342.5 263.1 L342.5 268.3Z" fill="#111"/>
<g stroke="#333" stroke-width="1.3" fill="#fff">
<path d="M281 105 L401 105 Q425.8 105 425.8 128 L412.5 128 Q412.5 116.7 401 116.7 L281 116.7" fill="#fff"/>
</g>
<path d="M304.5 110.5 L308.5 107.3 L313 107.3 L313 113.7 L308.5 113.7Z" fill="#111"/>
<g stroke="#333" stroke-width="1" fill="#c8c8c8">
<rect x="321" y="100" width="5.7" height="21.5" rx="2"/>
<rect x="346.7" y="100" width="5.7" height="21.5" rx="2"/>
<rect x="374" y="100" width="5.7" height="21.5" rx="2"/>
<rect x="395.8" y="100" width="5.7" height="21.5" rx="2"/>
<rect x="409" y="127.5" width="20" height="5" rx="1.5"/>
</g>
<g stroke="#333" stroke-width="1.2" fill="#fff">
<path d="M330.7 97 L342 97 L342 115 Q336.3 123 330.7 115Z"/>
<path d="M332 97 L334 89 L338.7 89 L340.7 97Z"/>
<line x1="336.3" y1="85" x2="336.3" y2="89"/>
</g>
<rect x="326" y="82.5" width="22" height="3" rx="1.5" fill="#999" stroke="#333" stroke-width="1"/>
<path d="M352.5 105 C356.5 105 356 100 363.3 100 C370.5 100 370 105 374 105 L374 116.7 C370 116.7 370.5 121 363.3 121 C356 121 356.5 116.7 352.5 116.7Z" fill="#fff" stroke="#333" stroke-width="1.2"/>
<g stroke="#333" stroke-width="1.2" fill="#fff"><rect x="385" y="92" width="5" height="13"/><circle cx="387.8" cy="85.8" r="6.2"/></g>
<line x1="387" y1="83" x2="389" y2="87" stroke="#777" stroke-width="1"/>
<g stroke="#444" stroke-width="1.2" fill="none"><line x1="412.5" y1="132.5" x2="412.5" y2="309"/><line x1="425" y1="132.5" x2="425" y2="309"/></g>
<line x1="418.8" y1="165" x2="418.8" y2="300" stroke="#444" stroke-width="1.1"/>
<circle cx="419" cy="165" r="2" fill="#111"/>
<rect x="417" y="180" width="4" height="11" rx="2" fill="#fff" stroke="#333" stroke-width="1"/>
<rect x="411" y="214" width="16" height="5" rx="2" fill="#aaa" stroke="#444" stroke-width="1.2"/>
<rect x="411" y="276.5" width="16" height="5.5" fill="#c4cccf" stroke="#7a8488" stroke-width="1"/>
<path d="M418.5 295.5 L421.5 298 L420.8 302 L416.2 302 L415.5 298Z" fill="#111"/>
<rect x="403" y="312" width="29.7" height="216" fill="#d2eaf5"/>
<line x1="432.2" y1="312" x2="432.2" y2="528" stroke="#8a9aa2" stroke-width="1.8"/>
<line x1="404" y1="312" x2="433" y2="312" stroke="#aab" stroke-width="1"/>
<path d="M406 311.5 Q408 309.5 412 309.5 L425 309.5 Q429 309.5 431 311.5" fill="none" stroke="#333" stroke-width="1.3"/>
<path d="M412.3 311 L412.3 314 Q412.3 318 416 318 L421 318 Q424.7 318 424.7 314 L424.7 311" fill="#fff" stroke="#333" stroke-width="1.4"/>
<line x1="418.5" y1="311" x2="418.5" y2="318" stroke="#333" stroke-width="1"/>
<rect x="402" y="318" width="4.5" height="210" fill="#646e74"/>
<line x1="406" y1="322.3" x2="432.7" y2="322.3" stroke="#7a8288" stroke-width="1.2"/>
<rect x="409" y="326.5" width="19" height="39.5" fill="#0a4893"/>
<ellipse cx="416.5" cy="348" rx="4.2" ry="2.8" transform="rotate(-15 416.5 348)" fill="#b43060" stroke="#d02a48" stroke-width="0.8"/>
<rect x="406" y="405" width="26.7" height="11" fill="#8e989c"/>
<rect x="406" y="418" width="26.7" height="10" fill="#4e565a"/>
<rect x="406" y="434" width="26.7" height="8" fill="#646c70"/>
<rect x="406" y="482" width="26.7" height="3.5" fill="#6c7478"/>
<rect x="406" y="512" width="26.7" height="10" fill="#5e666a"/>
<line x1="406" y1="405" x2="432.7" y2="405" stroke="#555" stroke-width="1"/>
<path d="M402 512 L433 512 L433 528.5 L402 528.5Z" fill="#5e666a"/>
<rect x="408" y="523" width="12" height="3.5" rx="1" fill="#fff" stroke="#333" stroke-width="0.8"/>
<path d="M421.5 523 L430 523 L427 525 L427 526.5 L424.5 526.5 L424.5 525Z" fill="#fff"/>
<line x1="402" y1="528" x2="433" y2="528" stroke="#333" stroke-width="1.2"/>
<path d="M401.5 424.0 L396.6 424.6 L397.9 426.2 L394.4 429.5 L396.3 431.1 L399.9 427.9 L401.2 429.2Z M435.5 424.0 L440.4 424.6 L439.1 426.2 L442.6 429.5 L440.7 431.1 L437.1 427.9 L435.8 429.2Z" fill="#111"/>
<g fill="#d6ecf6" stroke="#3c4a52" stroke-width="1.5" stroke-linejoin="round">
<path d="M386.5 543 L392.0 543 L394.5 550 L389.0 550Z"/>
<path d="M394.7 543 L400.2 543 L402.7 550 L397.2 550Z"/>
<path d="M402.9 543 L408.4 543 L410.9 550 L405.4 550Z"/>
<path d="M411.1 543 L416.6 543 L419.1 550 L413.6 550Z"/>
<path d="M419.3 543 L424.8 543 L427.3 550 L421.8 550Z"/>
<path d="M427.5 543 L433.0 543 L435.5 550 L430.0 550Z"/>
<path d="M435.7 543 L441.2 543 L443.7 550 L438.2 550Z"/>
</g>
<path d="M407.5 7 L407.5 298 Q407.5 305 404 309 L404 320" stroke="#2f68a8" stroke-width="2.2" fill="none"/>
<g stroke="#333" stroke-width="1"><line x1="286" y1="528.5" x2="402" y2="528.5"/><line x1="286" y1="553" x2="450" y2="553"/>
<line x1="286" y1="510" x2="286" y2="526"/><line x1="286" y1="556" x2="286" y2="571"/></g>
<path d="M286 528 L284 521 L288 521Z M286 554 L284 561 L288 561Z" fill="#111"/>
<text x="210" y="237.3" font-size="13.8" font-weight="bold" fill="#1a1a1a" stroke="#1a1a1a" stroke-width="0.45" textLength="119"  lengthAdjust="spacingAndGlyphs">СТАТИЧЕСКИЙ УРОВЕНЬ</text>
<text x="194.5" y="270.2" font-size="13.8" font-weight="bold" fill="#1a1a1a" stroke="#1a1a1a" stroke-width="0.45" textLength="134.5"  lengthAdjust="spacingAndGlyphs">ДИНАМИЧЕСКИЙ УРОВЕНЬ</text>
<text x="256" y="546" font-size="12" font-weight="bold" fill="#222" stroke="#222" stroke-width="0.3" textLength="61.5" lengthAdjust="spacingAndGlyphs">min 1 metro</text></svg>
</body></html>
